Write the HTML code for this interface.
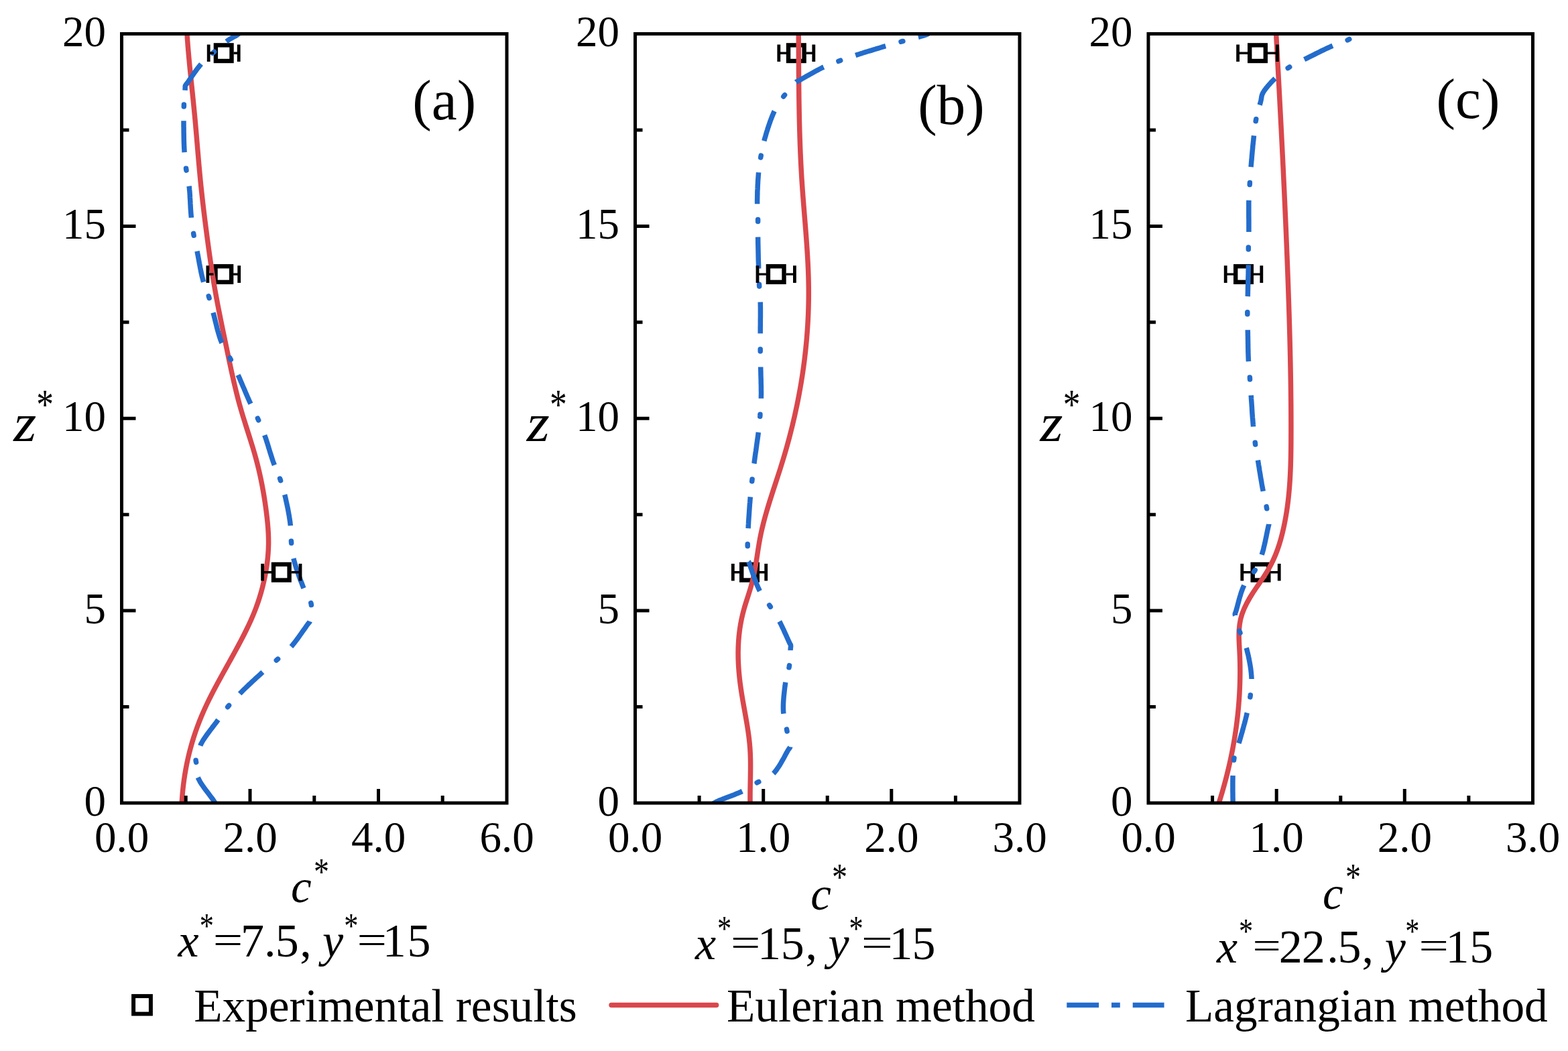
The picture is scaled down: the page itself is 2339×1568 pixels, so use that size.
<!DOCTYPE html><html><head><meta charset="utf-8"><title>Concentration profiles</title><style>html,body{margin:0;padding:0;background:#fff;}svg{display:block;}text{font-family:'Liberation Serif', 'Times New Roman', serif;fill:#000;}</style></head><body>
<svg width="2339" height="1568" viewBox="0 0 2339 1568">
<rect x="0" y="0" width="2339" height="1568" fill="#fff"/>
<g><clipPath id="clip0"><rect x="181.5" y="50.5" width="574.5" height="1147.5"/></clipPath><rect x="321.90" y="67.39" width="23.6" height="23.6" fill="#fff" stroke="#000" stroke-width="6.4"/><rect x="321.50" y="397.29" width="23.6" height="23.6" fill="#fff" stroke="#000" stroke-width="6.4"/><rect x="408.00" y="841.95" width="23.6" height="23.6" fill="#fff" stroke="#000" stroke-width="6.4"/><path d="M278.56,44.00 C278.87,49.33 279.23,54.67 279.62,60.00 C280.01,65.33 280.44,70.67 280.90,76.00 C281.35,81.33 281.84,86.67 282.34,92.00 C282.84,97.33 283.37,102.67 283.90,108.00 C284.44,113.33 284.98,118.67 285.53,124.00 C286.08,129.33 286.64,134.67 287.19,140.00 C287.74,145.33 288.29,150.67 288.82,156.00 C289.36,161.33 289.88,166.67 290.39,172.00 C290.89,177.33 291.38,182.67 291.85,188.00 C292.32,193.33 292.78,198.67 293.23,204.00 C293.68,209.33 294.13,214.67 294.58,220.00 C295.03,225.33 295.48,230.67 295.94,236.00 C296.40,241.33 296.86,246.67 297.35,252.00 C297.83,257.33 298.33,262.67 298.85,268.00 C299.38,273.33 299.92,278.67 300.49,284.00 C301.07,289.33 301.66,294.67 302.27,300.00 C302.88,305.33 303.51,310.67 304.16,316.00 C304.81,321.33 305.47,326.67 306.15,332.00 C306.83,337.33 307.52,342.67 308.22,348.00 C308.92,353.33 309.63,358.67 310.35,364.00 C311.07,369.33 311.81,374.67 312.56,380.00 C313.32,385.33 314.09,390.67 314.89,396.00 C315.68,401.33 316.50,406.67 317.35,412.00 C318.20,417.33 319.08,422.67 319.98,428.00 C320.89,433.33 321.84,438.67 322.81,444.00 C323.79,449.33 324.81,454.67 325.85,460.00 C326.88,465.33 327.95,470.67 329.03,476.00 C330.11,481.33 331.21,486.67 332.32,492.00 C333.42,497.33 334.54,502.67 335.65,508.00 C336.76,513.33 337.88,518.67 338.99,524.00 C340.09,529.33 341.21,534.67 342.33,540.00 C343.46,545.33 344.60,550.67 345.77,556.00 C346.94,561.33 348.14,566.67 349.38,572.00 C350.63,577.33 351.92,582.67 353.26,588.00 C354.60,593.33 356.00,598.67 357.48,604.00 C358.95,609.33 360.50,614.67 362.12,620.00 C363.73,625.33 365.41,630.67 367.10,636.00 C368.80,641.33 370.51,646.67 372.21,652.00 C373.90,657.33 375.57,662.67 377.18,668.00 C378.79,673.33 380.33,678.67 381.78,684.00 C383.23,689.33 384.58,694.67 385.85,700.00 C387.12,705.33 388.30,710.67 389.40,716.00 C390.50,721.33 391.52,726.67 392.47,732.00 C393.42,737.33 394.29,742.67 395.10,748.00 C395.90,753.33 396.65,758.67 397.33,764.00 C398.00,769.33 398.62,774.67 399.13,780.00 C399.63,785.33 400.04,790.67 400.29,796.00 C400.54,801.33 400.65,806.67 400.57,812.00 C400.49,817.33 400.22,822.67 399.78,828.00 C399.35,833.33 398.74,838.67 397.98,844.00 C397.21,849.33 396.29,854.67 395.22,860.00 C394.15,865.33 392.94,870.67 391.57,876.00 C390.21,881.33 388.69,886.67 387.01,892.00 C385.33,897.33 383.48,902.67 381.46,908.00 C379.44,913.33 377.24,918.67 374.88,924.00 C372.53,929.33 370.02,934.67 367.39,940.00 C364.77,945.33 362.03,950.67 359.22,956.00 C356.42,961.33 353.55,966.67 350.64,972.00 C347.73,977.33 344.77,982.67 341.80,988.00 C338.84,993.33 335.86,998.67 332.91,1004.00 C329.95,1009.33 327.02,1014.67 324.15,1020.00 C321.28,1025.33 318.46,1030.67 315.74,1036.00 C313.01,1041.33 310.38,1046.67 307.87,1052.00 C305.36,1057.33 302.98,1062.67 300.74,1068.00 C298.50,1073.33 296.40,1078.67 294.44,1084.00 C292.48,1089.33 290.65,1094.67 288.95,1100.00 C287.25,1105.33 285.68,1110.67 284.24,1116.00 C282.79,1121.33 281.47,1126.67 280.27,1132.00 C279.07,1137.33 277.99,1142.67 277.03,1148.00 C276.06,1153.33 275.21,1158.67 274.48,1164.00 C273.74,1169.33 273.11,1174.67 272.59,1180.00 C272.07,1185.33 271.65,1190.67 271.34,1196.00 C271.18,1198.67 271.05,1201.33 270.95,1204.00" fill="none" stroke="#d9474c" stroke-width="7.5" stroke-linejoin="round" stroke-linecap="butt" clip-path="url(#clip0)"/><path d="M357.5,48.5 L357.4,48.7 L357.2,48.8 L357.1,49.0 L357.0,49.2 L356.8,49.3 L356.7,49.5 L356.6,49.6 L356.5,49.8 L356.3,50.0 L356.2,50.1 L356.1,50.3 L355.9,50.5 L355.7,50.6 L355.5,50.8 L355.3,51.0 L355.1,51.2 L354.5,51.6 L353.8,52.1 L353.1,52.6 L352.3,53.1 L351.4,53.6 L350.4,54.2 L349.4,54.7 L348.3,55.3 L347.3,55.9 L346.2,56.5 L345.1,57.1 L344.0,57.7 L342.9,58.4 L341.8,59.0 L340.8,59.7 L339.8,60.4 L338.7,61.2 L337.5,62.1 L336.4,62.9 L335.3,63.8 L334.1,64.7 L333.0,65.7 L331.9,66.6 L330.7,67.6 L329.6,68.6 L328.4,69.6 L327.2,70.6 L326.1,71.6 L324.9,72.6 L323.7,73.6 L322.6,74.7 L321.4,75.7 L320.1,76.8 L318.8,78.0 L317.4,79.2 L316.1,80.3 L314.7,81.5 L313.3,82.7 L312.0,83.9 L310.6,85.1 L309.3,86.3 L307.9,87.6 L306.5,88.9 L305.2,90.2 L303.9,91.5 L302.6,92.8 L301.3,94.2 L300.0,95.6" fill="none" stroke="#236ccc" stroke-width="7.5" stroke-linejoin="round" stroke-linecap="butt" stroke-dasharray="47.00 50.50" stroke-dashoffset="22.82" clip-path="url(#clip0)"/><path d="M357.5,48.5 L357.4,48.7 L357.2,48.8 L357.1,49.0 L357.0,49.2 L356.8,49.3 L356.7,49.5 L356.6,49.6 L356.5,49.8 L356.3,50.0 L356.2,50.1 L356.1,50.3 L355.9,50.5 L355.7,50.6 L355.5,50.8 L355.3,51.0 L355.1,51.2 L354.5,51.6 L353.8,52.1 L353.1,52.6 L352.3,53.1 L351.4,53.6 L350.4,54.2 L349.4,54.7 L348.3,55.3 L347.3,55.9 L346.2,56.5 L345.1,57.1 L344.0,57.7 L342.9,58.4 L341.8,59.0 L340.8,59.7 L339.8,60.4 L338.7,61.2 L337.5,62.1 L336.4,62.9 L335.3,63.8 L334.1,64.7 L333.0,65.7 L331.9,66.6 L330.7,67.6 L329.6,68.6 L328.4,69.6 L327.2,70.6 L326.1,71.6 L324.9,72.6 L323.7,73.6 L322.6,74.7 L321.4,75.7 L320.1,76.8 L318.8,78.0 L317.4,79.2 L316.1,80.3 L314.7,81.5 L313.3,82.7 L312.0,83.9 L310.6,85.1 L309.3,86.3 L307.9,87.6 L306.5,88.9 L305.2,90.2 L303.9,91.5 L302.6,92.8 L301.3,94.2 L300.0,95.6" fill="none" stroke="#236ccc" stroke-width="7.5" stroke-linecap="round" stroke-dasharray="3.00 94.50" stroke-dashoffset="49.57" clip-path="url(#clip0)"/><path d="M300.0,95.6 L298.6,97.2 L297.2,99.0 L295.7,100.8 L294.2,102.8 L292.7,104.8 L291.3,106.8 L289.8,108.8 L288.4,110.8 L287.0,112.8 L285.7,114.8 L284.4,116.6 L283.2,118.3 L282.1,120.0 L281.1,121.4 L280.2,122.7 L279.4,123.8 L279.2,124.1 L278.9,124.4 L278.7,124.7 L278.5,125.0 L278.2,125.3 L278.0,125.5 L277.8,125.7 L277.6,125.9 L277.5,126.2 L277.3,126.4 L277.1,126.6 L277.0,126.8 L276.9,127.0 L276.7,127.3 L276.6,127.5 L276.5,127.8 L276.4,128.1 L276.3,128.4 L276.3,128.6 L276.2,128.9 L276.2,129.2 L276.2,129.4 L276.2,129.7 L276.2,130.0 L276.2,130.3 L276.2,130.6 L276.2,130.9 L276.2,131.3 L276.2,131.6 L276.2,132.0 L276.1,132.4 L276.1,132.8 L276.1,133.7 L276.0,134.7 L275.9,135.9 L275.8,137.1 L275.7,138.3 L275.5,139.7 L275.4,141.0 L275.3,142.5 L275.2,143.9 L275.1,145.4 L275.0,146.9 L274.9,148.4 L274.8,149.9 L274.7,151.4 L274.6,152.9 L274.5,154.3 L274.4,155.8 L274.4,157.4 L274.3,158.9 L274.3,160.5 L274.2,162.0 L274.2,163.6 L274.1,165.1 L274.1,166.7 L274.1,168.3 L274.0,169.9 L274.0,171.6 L274.0,173.2 L274.0,175.0 L274.0,176.7 L274.0,178.5 L274.0,180.3" fill="none" stroke="#236ccc" stroke-width="7.5" stroke-linejoin="round" stroke-linecap="butt" stroke-dasharray="47.00 45.52" stroke-dashoffset="0.00" clip-path="url(#clip0)"/><path d="M300.0,95.6 L298.6,97.2 L297.2,99.0 L295.7,100.8 L294.2,102.8 L292.7,104.8 L291.3,106.8 L289.8,108.8 L288.4,110.8 L287.0,112.8 L285.7,114.8 L284.4,116.6 L283.2,118.3 L282.1,120.0 L281.1,121.4 L280.2,122.7 L279.4,123.8 L279.2,124.1 L278.9,124.4 L278.7,124.7 L278.5,125.0 L278.2,125.3 L278.0,125.5 L277.8,125.7 L277.6,125.9 L277.5,126.2 L277.3,126.4 L277.1,126.6 L277.0,126.8 L276.9,127.0 L276.7,127.3 L276.6,127.5 L276.5,127.8 L276.4,128.1 L276.3,128.4 L276.3,128.6 L276.2,128.9 L276.2,129.2 L276.2,129.4 L276.2,129.7 L276.2,130.0 L276.2,130.3 L276.2,130.6 L276.2,130.9 L276.2,131.3 L276.2,131.6 L276.2,132.0 L276.1,132.4 L276.1,132.8 L276.1,133.7 L276.0,134.7 L275.9,135.9 L275.8,137.1 L275.7,138.3 L275.5,139.7 L275.4,141.0 L275.3,142.5 L275.2,143.9 L275.1,145.4 L275.0,146.9 L274.9,148.4 L274.8,149.9 L274.7,151.4 L274.6,152.9 L274.5,154.3 L274.4,155.8 L274.4,157.4 L274.3,158.9 L274.3,160.5 L274.2,162.0 L274.2,163.6 L274.1,165.1 L274.1,166.7 L274.1,168.3 L274.0,169.9 L274.0,171.6 L274.0,173.2 L274.0,175.0 L274.0,176.7 L274.0,178.5 L274.0,180.3" fill="none" stroke="#236ccc" stroke-width="7.5" stroke-linecap="round" stroke-dasharray="3.00 89.52" stroke-dashoffset="24.26" clip-path="url(#clip0)"/><path d="M274.0,180.3 L274.0,182.8 L274.0,185.4 L274.0,188.1 L274.1,190.9 L274.1,193.8 L274.1,196.8 L274.2,199.7 L274.2,202.7 L274.3,205.7 L274.3,208.7 L274.4,211.6 L274.5,214.5 L274.6,217.3 L274.7,220.1 L274.9,222.7 L275.0,225.2 L275.1,227.0 L275.2,228.9 L275.4,230.6 L275.5,232.3 L275.6,234.0 L275.8,235.7 L275.9,237.3 L276.1,238.9 L276.2,240.5 L276.4,242.1 L276.6,243.7 L276.8,245.3 L277.0,246.9 L277.2,248.5 L277.4,250.1 L277.6,251.7 L277.8,253.3 L278.1,254.9 L278.4,256.5 L278.6,258.1 L278.9,259.6 L279.2,261.2 L279.5,262.8 L279.8,264.3 L280.2,265.9 L280.5,267.5 L280.8,269.1 L281.1,270.8 L281.3,272.5 L281.6,274.2 L281.9,276.0 L282.1,277.8" fill="none" stroke="#236ccc" stroke-width="7.5" stroke-linejoin="round" stroke-linecap="butt" stroke-dasharray="47.00 51.04" stroke-dashoffset="0.00" clip-path="url(#clip0)"/><path d="M274.0,180.3 L274.0,182.8 L274.0,185.4 L274.0,188.1 L274.1,190.9 L274.1,193.8 L274.1,196.8 L274.2,199.7 L274.2,202.7 L274.3,205.7 L274.3,208.7 L274.4,211.6 L274.5,214.5 L274.6,217.3 L274.7,220.1 L274.9,222.7 L275.0,225.2 L275.1,227.0 L275.2,228.9 L275.4,230.6 L275.5,232.3 L275.6,234.0 L275.8,235.7 L275.9,237.3 L276.1,238.9 L276.2,240.5 L276.4,242.1 L276.6,243.7 L276.8,245.3 L277.0,246.9 L277.2,248.5 L277.4,250.1 L277.6,251.7 L277.8,253.3 L278.1,254.9 L278.4,256.5 L278.6,258.1 L278.9,259.6 L279.2,261.2 L279.5,262.8 L279.8,264.3 L280.2,265.9 L280.5,267.5 L280.8,269.1 L281.1,270.8 L281.3,272.5 L281.6,274.2 L281.9,276.0 L282.1,277.8" fill="none" stroke="#236ccc" stroke-width="7.5" stroke-linecap="round" stroke-dasharray="3.00 95.04" stroke-dashoffset="27.02" clip-path="url(#clip0)"/><path d="M282.1,277.8 L282.4,280.3 L282.6,282.9 L282.9,285.7 L283.1,288.5 L283.3,291.4 L283.4,294.4 L283.6,297.4 L283.8,300.4 L283.9,303.4 L284.1,306.4 L284.2,309.3 L284.4,312.2 L284.6,315.0 L284.8,317.7 L285.0,320.3 L285.2,322.7 L285.4,324.4 L285.5,326.0 L285.7,327.6 L285.9,329.2 L286.0,330.7 L286.2,332.1 L286.4,333.6 L286.6,335.0 L286.8,336.4 L287.0,337.8 L287.2,339.3 L287.4,340.7 L287.6,342.1 L287.8,343.6 L288.0,345.1 L288.3,346.6 L288.6,348.3 L288.9,350.0 L289.2,351.7 L289.5,353.3 L289.9,355.0 L290.2,356.7 L290.6,358.4 L290.9,360.1 L291.3,361.9 L291.7,363.6 L292.0,365.4 L292.4,367.2 L292.8,369.0 L293.2,370.9 L293.6,372.8 L294.0,374.7 L294.0,374.7" fill="none" stroke="#236ccc" stroke-width="7.5" stroke-linejoin="round" stroke-linecap="butt" stroke-dasharray="47.00 50.79" stroke-dashoffset="0.00" clip-path="url(#clip0)"/><path d="M282.1,277.8 L282.4,280.3 L282.6,282.9 L282.9,285.7 L283.1,288.5 L283.3,291.4 L283.4,294.4 L283.6,297.4 L283.8,300.4 L283.9,303.4 L284.1,306.4 L284.2,309.3 L284.4,312.2 L284.6,315.0 L284.8,317.7 L285.0,320.3 L285.2,322.7 L285.4,324.4 L285.5,326.0 L285.7,327.6 L285.9,329.2 L286.0,330.7 L286.2,332.1 L286.4,333.6 L286.6,335.0 L286.8,336.4 L287.0,337.8 L287.2,339.3 L287.4,340.7 L287.6,342.1 L287.8,343.6 L288.0,345.1 L288.3,346.6 L288.6,348.3 L288.9,350.0 L289.2,351.7 L289.5,353.3 L289.9,355.0 L290.2,356.7 L290.6,358.4 L290.9,360.1 L291.3,361.9 L291.7,363.6 L292.0,365.4 L292.4,367.2 L292.8,369.0 L293.2,370.9 L293.6,372.8 L294.0,374.7 L294.0,374.7" fill="none" stroke="#236ccc" stroke-width="7.5" stroke-linecap="round" stroke-dasharray="3.00 94.79" stroke-dashoffset="26.90" clip-path="url(#clip0)"/><path d="M294.0,374.7 L294.5,377.2 L295.0,379.7 L295.5,382.4 L296.0,385.1 L296.5,387.9 L297.0,390.7 L297.5,393.5 L298.1,396.4 L298.6,399.2 L299.2,402.0 L299.7,404.8 L300.3,407.6 L300.9,410.2 L301.5,412.8 L302.1,415.2 L302.7,417.6 L303.2,419.3 L303.7,421.0 L304.2,422.6 L304.8,424.2 L305.3,425.8 L305.9,427.3 L306.4,428.8 L307.0,430.2 L307.6,431.7 L308.1,433.2 L308.7,434.6 L309.2,436.1 L309.8,437.5 L310.3,439.0 L310.8,440.5 L311.3,442.0 L311.8,443.5 L312.2,445.0 L312.6,446.5 L313.1,447.9 L313.5,449.4 L313.9,450.9 L314.3,452.3 L314.6,453.8 L315.0,455.3 L315.4,456.8 L315.8,458.4 L316.2,459.9 L316.7,461.5 L317.1,463.1 L317.5,464.8 L318.0,466.5" fill="none" stroke="#236ccc" stroke-width="7.5" stroke-linejoin="round" stroke-linecap="butt" stroke-dasharray="47.00 48.07" stroke-dashoffset="0.00" clip-path="url(#clip0)"/><path d="M294.0,374.7 L294.5,377.2 L295.0,379.7 L295.5,382.4 L296.0,385.1 L296.5,387.9 L297.0,390.7 L297.5,393.5 L298.1,396.4 L298.6,399.2 L299.2,402.0 L299.7,404.8 L300.3,407.6 L300.9,410.2 L301.5,412.8 L302.1,415.2 L302.7,417.6 L303.2,419.3 L303.7,421.0 L304.2,422.6 L304.8,424.2 L305.3,425.8 L305.9,427.3 L306.4,428.8 L307.0,430.2 L307.6,431.7 L308.1,433.2 L308.7,434.6 L309.2,436.1 L309.8,437.5 L310.3,439.0 L310.8,440.5 L311.3,442.0 L311.8,443.5 L312.2,445.0 L312.6,446.5 L313.1,447.9 L313.5,449.4 L313.9,450.9 L314.3,452.3 L314.6,453.8 L315.0,455.3 L315.4,456.8 L315.8,458.4 L316.2,459.9 L316.7,461.5 L317.1,463.1 L317.5,464.8 L318.0,466.5" fill="none" stroke="#236ccc" stroke-width="7.5" stroke-linecap="round" stroke-dasharray="3.00 92.07" stroke-dashoffset="25.53" clip-path="url(#clip0)"/><path d="M318.0,466.5 L318.6,468.8 L319.3,471.3 L319.9,473.8 L320.6,476.5 L321.2,479.2 L321.9,481.9 L322.6,484.7 L323.3,487.5 L324.0,490.3 L324.7,493.0 L325.5,495.8 L326.3,498.5 L327.1,501.1 L327.9,503.6 L328.7,506.1 L329.6,508.4 L330.3,510.2 L331.1,512.0 L331.9,513.7 L332.7,515.3 L333.5,516.9 L334.4,518.5 L335.2,520.1 L336.1,521.6 L337.0,523.1 L337.8,524.7 L338.7,526.2 L339.6,527.7 L340.4,529.2 L341.3,530.8 L342.1,532.3 L342.9,533.9 L343.7,535.5 L344.5,537.0 L345.2,538.6 L346.0,540.1 L346.7,541.7 L347.5,543.2 L348.2,544.7 L349.0,546.3 L349.7,547.8 L350.5,549.4 L351.2,551.0 L352.0,552.6 L352.7,554.2 L353.5,555.9 L354.3,557.6 L355.1,559.4" fill="none" stroke="#236ccc" stroke-width="7.5" stroke-linejoin="round" stroke-linecap="butt" stroke-dasharray="47.00 53.56" stroke-dashoffset="0.00" clip-path="url(#clip0)"/><path d="M318.0,466.5 L318.6,468.8 L319.3,471.3 L319.9,473.8 L320.6,476.5 L321.2,479.2 L321.9,481.9 L322.6,484.7 L323.3,487.5 L324.0,490.3 L324.7,493.0 L325.5,495.8 L326.3,498.5 L327.1,501.1 L327.9,503.6 L328.7,506.1 L329.6,508.4 L330.3,510.2 L331.1,512.0 L331.9,513.7 L332.7,515.3 L333.5,516.9 L334.4,518.5 L335.2,520.1 L336.1,521.6 L337.0,523.1 L337.8,524.7 L338.7,526.2 L339.6,527.7 L340.4,529.2 L341.3,530.8 L342.1,532.3 L342.9,533.9 L343.7,535.5 L344.5,537.0 L345.2,538.6 L346.0,540.1 L346.7,541.7 L347.5,543.2 L348.2,544.7 L349.0,546.3 L349.7,547.8 L350.5,549.4 L351.2,551.0 L352.0,552.6 L352.7,554.2 L353.5,555.9 L354.3,557.6 L355.1,559.4" fill="none" stroke="#236ccc" stroke-width="7.5" stroke-linecap="round" stroke-dasharray="3.00 97.56" stroke-dashoffset="28.28" clip-path="url(#clip0)"/><path d="M355.1,559.4 L356.1,561.7 L357.2,564.0 L358.2,566.4 L359.3,568.9 L360.4,571.5 L361.5,574.1 L362.6,576.7 L363.8,579.3 L364.9,582.0 L366.0,584.6 L367.1,587.2 L368.2,589.7 L369.3,592.2 L370.3,594.6 L371.4,597.0 L372.4,599.2 L373.2,600.9 L374.0,602.6 L374.7,604.2 L375.5,605.7 L376.3,607.3 L377.0,608.8 L377.8,610.3 L378.5,611.8 L379.2,613.3 L379.9,614.7 L380.7,616.2 L381.4,617.7 L382.1,619.1 L382.8,620.6 L383.5,622.2 L384.2,623.7 L384.9,625.3 L385.6,626.8 L386.3,628.3 L386.9,629.9 L387.6,631.4 L388.2,632.9 L388.9,634.5 L389.5,636.0 L390.2,637.6 L390.8,639.1 L391.5,640.7 L392.1,642.4 L392.7,644.0 L393.4,645.7 L394.0,647.4 L394.7,649.2" fill="none" stroke="#236ccc" stroke-width="7.5" stroke-linejoin="round" stroke-linecap="butt" stroke-dasharray="47.00 51.18" stroke-dashoffset="0.00" clip-path="url(#clip0)"/><path d="M355.1,559.4 L356.1,561.7 L357.2,564.0 L358.2,566.4 L359.3,568.9 L360.4,571.5 L361.5,574.1 L362.6,576.7 L363.8,579.3 L364.9,582.0 L366.0,584.6 L367.1,587.2 L368.2,589.7 L369.3,592.2 L370.3,594.6 L371.4,597.0 L372.4,599.2 L373.2,600.9 L374.0,602.6 L374.7,604.2 L375.5,605.7 L376.3,607.3 L377.0,608.8 L377.8,610.3 L378.5,611.8 L379.2,613.3 L379.9,614.7 L380.7,616.2 L381.4,617.7 L382.1,619.1 L382.8,620.6 L383.5,622.2 L384.2,623.7 L384.9,625.3 L385.6,626.8 L386.3,628.3 L386.9,629.9 L387.6,631.4 L388.2,632.9 L388.9,634.5 L389.5,636.0 L390.2,637.6 L390.8,639.1 L391.5,640.7 L392.1,642.4 L392.7,644.0 L393.4,645.7 L394.0,647.4 L394.7,649.2" fill="none" stroke="#236ccc" stroke-width="7.5" stroke-linecap="round" stroke-dasharray="3.00 95.18" stroke-dashoffset="27.09" clip-path="url(#clip0)"/><path d="M394.7,649.2 L395.5,651.5 L396.4,653.9 L397.2,656.4 L398.0,659.0 L398.9,661.6 L399.7,664.3 L400.5,667.0 L401.4,669.8 L402.2,672.5 L403.0,675.2 L403.9,677.8 L404.7,680.4 L405.5,683.0 L406.3,685.4 L407.1,687.8 L407.9,690.0 L408.5,691.6 L409.1,693.1 L409.7,694.6 L410.3,696.1 L410.9,697.5 L411.4,698.8 L412.0,700.2 L412.6,701.5 L413.2,702.8 L413.7,704.2 L414.3,705.5 L414.9,706.8 L415.4,708.2 L416.0,709.6 L416.5,711.0 L417.0,712.4 L417.5,713.9 L418.1,715.5 L418.6,717.0 L419.1,718.5 L419.6,720.0 L420.1,721.5 L420.6,723.1 L421.0,724.6 L421.5,726.2 L422.0,727.8 L422.4,729.4 L422.9,731.1 L423.4,732.7 L423.8,734.5 L424.3,736.2 L424.7,738.0" fill="none" stroke="#236ccc" stroke-width="7.5" stroke-linejoin="round" stroke-linecap="butt" stroke-dasharray="47.00 46.81" stroke-dashoffset="0.00" clip-path="url(#clip0)"/><path d="M394.7,649.2 L395.5,651.5 L396.4,653.9 L397.2,656.4 L398.0,659.0 L398.9,661.6 L399.7,664.3 L400.5,667.0 L401.4,669.8 L402.2,672.5 L403.0,675.2 L403.9,677.8 L404.7,680.4 L405.5,683.0 L406.3,685.4 L407.1,687.8 L407.9,690.0 L408.5,691.6 L409.1,693.1 L409.7,694.6 L410.3,696.1 L410.9,697.5 L411.4,698.8 L412.0,700.2 L412.6,701.5 L413.2,702.8 L413.7,704.2 L414.3,705.5 L414.9,706.8 L415.4,708.2 L416.0,709.6 L416.5,711.0 L417.0,712.4 L417.5,713.9 L418.1,715.5 L418.6,717.0 L419.1,718.5 L419.6,720.0 L420.1,721.5 L420.6,723.1 L421.0,724.6 L421.5,726.2 L422.0,727.8 L422.4,729.4 L422.9,731.1 L423.4,732.7 L423.8,734.5 L424.3,736.2 L424.7,738.0" fill="none" stroke="#236ccc" stroke-width="7.5" stroke-linecap="round" stroke-dasharray="3.00 90.81" stroke-dashoffset="24.91" clip-path="url(#clip0)"/><path d="M424.7,738.0 L425.3,740.4 L425.9,742.8 L426.4,745.4 L427.0,748.0 L427.6,750.7 L428.2,753.5 L428.8,756.3 L429.4,759.1 L429.9,761.9 L430.4,764.7 L430.9,767.4 L431.4,770.2 L431.8,772.8 L432.2,775.4 L432.6,777.9 L432.9,780.3 L433.1,782.1 L433.3,783.9 L433.4,785.6 L433.5,787.3 L433.6,788.9 L433.7,790.6 L433.7,792.2 L433.7,793.8 L433.8,795.4 L433.8,796.9 L433.9,798.5 L433.9,800.1 L434.0,801.7 L434.1,803.3 L434.2,804.9 L434.3,806.5 L434.5,808.1 L434.6,809.8 L434.7,811.4 L434.9,813.0 L435.0,814.6 L435.2,816.2 L435.4,817.8 L435.5,819.4 L435.7,821.0 L436.0,822.7 L436.2,824.3 L436.5,826.0 L436.8,827.7 L437.1,829.5 L437.5,831.3 L437.9,833.1" fill="none" stroke="#236ccc" stroke-width="7.5" stroke-linejoin="round" stroke-linecap="butt" stroke-dasharray="47.00 49.23" stroke-dashoffset="0.00" clip-path="url(#clip0)"/><path d="M424.7,738.0 L425.3,740.4 L425.9,742.8 L426.4,745.4 L427.0,748.0 L427.6,750.7 L428.2,753.5 L428.8,756.3 L429.4,759.1 L429.9,761.9 L430.4,764.7 L430.9,767.4 L431.4,770.2 L431.8,772.8 L432.2,775.4 L432.6,777.9 L432.9,780.3 L433.1,782.1 L433.3,783.9 L433.4,785.6 L433.5,787.3 L433.6,788.9 L433.7,790.6 L433.7,792.2 L433.7,793.8 L433.8,795.4 L433.8,796.9 L433.9,798.5 L433.9,800.1 L434.0,801.7 L434.1,803.3 L434.2,804.9 L434.3,806.5 L434.5,808.1 L434.6,809.8 L434.7,811.4 L434.9,813.0 L435.0,814.6 L435.2,816.2 L435.4,817.8 L435.5,819.4 L435.7,821.0 L436.0,822.7 L436.2,824.3 L436.5,826.0 L436.8,827.7 L437.1,829.5 L437.5,831.3 L437.9,833.1" fill="none" stroke="#236ccc" stroke-width="7.5" stroke-linecap="round" stroke-dasharray="3.00 93.23" stroke-dashoffset="26.11" clip-path="url(#clip0)"/><path d="M437.9,833.1 L438.5,835.7 L439.2,838.3 L440.0,841.1 L440.9,844.0 L441.8,847.0 L442.8,850.0 L443.8,853.0 L444.9,856.1 L445.9,859.1 L447.0,862.1 L448.1,865.1 L449.2,867.9 L450.3,870.7 L451.3,873.4 L452.3,876.0 L453.3,878.4 L454.0,880.1 L454.8,881.7 L455.5,883.2 L456.4,884.7 L457.2,886.2 L458.0,887.6 L458.8,889.0 L459.6,890.4 L460.4,891.7 L461.1,893.1 L461.8,894.4 L462.4,895.8 L463.0,897.1 L463.5,898.5 L463.9,899.9 L464.2,901.3 L464.4,902.6 L464.5,904.0 L464.6,905.4 L464.5,906.8 L464.5,908.3 L464.3,909.7 L464.2,911.2 L464.0,912.6 L463.8,914.0 L463.6,915.4 L463.4,916.7 L463.2,917.9 L463.0,919.1 L462.8,920.2 L462.7,921.2 L462.6,922.1 L462.6,922.5 L462.5,922.9 L462.5,923.3 L462.5,923.6 L462.5,924.0 L462.5,924.3 L462.5,924.6 L462.5,924.9 L462.5,925.2 L462.5,925.5 L462.5,925.7 L462.5,926.0 L462.4,926.3 L462.4,926.5 L462.3,926.8 L462.2,927.1 L462.2,927.1" fill="none" stroke="#236ccc" stroke-width="7.5" stroke-linejoin="round" stroke-linecap="butt" stroke-dasharray="47.00 52.33" stroke-dashoffset="0.00" clip-path="url(#clip0)"/><path d="M437.9,833.1 L438.5,835.7 L439.2,838.3 L440.0,841.1 L440.9,844.0 L441.8,847.0 L442.8,850.0 L443.8,853.0 L444.9,856.1 L445.9,859.1 L447.0,862.1 L448.1,865.1 L449.2,867.9 L450.3,870.7 L451.3,873.4 L452.3,876.0 L453.3,878.4 L454.0,880.1 L454.8,881.7 L455.5,883.2 L456.4,884.7 L457.2,886.2 L458.0,887.6 L458.8,889.0 L459.6,890.4 L460.4,891.7 L461.1,893.1 L461.8,894.4 L462.4,895.8 L463.0,897.1 L463.5,898.5 L463.9,899.9 L464.2,901.3 L464.4,902.6 L464.5,904.0 L464.6,905.4 L464.5,906.8 L464.5,908.3 L464.3,909.7 L464.2,911.2 L464.0,912.6 L463.8,914.0 L463.6,915.4 L463.4,916.7 L463.2,917.9 L463.0,919.1 L462.8,920.2 L462.7,921.2 L462.6,922.1 L462.6,922.5 L462.5,922.9 L462.5,923.3 L462.5,923.6 L462.5,924.0 L462.5,924.3 L462.5,924.6 L462.5,924.9 L462.5,925.2 L462.5,925.5 L462.5,925.7 L462.5,926.0 L462.4,926.3 L462.4,926.5 L462.3,926.8 L462.2,927.1 L462.2,927.1" fill="none" stroke="#236ccc" stroke-width="7.5" stroke-linecap="round" stroke-dasharray="3.00 96.33" stroke-dashoffset="27.67" clip-path="url(#clip0)"/><path d="M462.2,927.1 L462.1,927.4 L462.0,927.6 L461.8,927.9 L461.7,928.1 L461.6,928.3 L461.4,928.5 L461.2,928.7 L461.1,928.9 L460.9,929.1 L460.7,929.4 L460.5,929.6 L460.2,929.9 L460.0,930.1 L459.7,930.4 L459.5,930.8 L459.2,931.1 L458.3,932.4 L457.2,933.9 L455.9,935.8 L454.5,937.8 L452.9,940.0 L451.2,942.4 L449.5,944.9 L447.7,947.4 L445.8,950.1 L443.9,952.7 L442.0,955.2 L440.1,957.7 L438.2,960.2 L436.4,962.4 L434.7,964.5 L433.0,966.4 L431.8,967.7 L430.5,969.0 L429.3,970.2 L428.1,971.4 L426.9,972.5 L425.7,973.6 L424.4,974.7 L423.2,975.8 L422.0,976.8 L420.8,977.8 L419.6,978.8 L418.4,979.9 L417.1,980.9 L415.9,981.9 L414.7,983.0 L413.4,984.1 L412.1,985.2 L410.8,986.4 L409.5,987.5 L408.2,988.6 L406.9,989.7 L405.6,990.9 L404.3,992.0 L402.9,993.1 L401.6,994.2 L400.3,995.4 L398.9,996.5 L397.5,997.7 L396.2,998.9 L394.8,1000.2 L393.3,1001.4 L391.9,1002.7" fill="none" stroke="#236ccc" stroke-width="7.5" stroke-linejoin="round" stroke-linecap="butt" stroke-dasharray="47.00 56.87" stroke-dashoffset="0.00" clip-path="url(#clip0)"/><path d="M462.2,927.1 L462.1,927.4 L462.0,927.6 L461.8,927.9 L461.7,928.1 L461.6,928.3 L461.4,928.5 L461.2,928.7 L461.1,928.9 L460.9,929.1 L460.7,929.4 L460.5,929.6 L460.2,929.9 L460.0,930.1 L459.7,930.4 L459.5,930.8 L459.2,931.1 L458.3,932.4 L457.2,933.9 L455.9,935.8 L454.5,937.8 L452.9,940.0 L451.2,942.4 L449.5,944.9 L447.7,947.4 L445.8,950.1 L443.9,952.7 L442.0,955.2 L440.1,957.7 L438.2,960.2 L436.4,962.4 L434.7,964.5 L433.0,966.4 L431.8,967.7 L430.5,969.0 L429.3,970.2 L428.1,971.4 L426.9,972.5 L425.7,973.6 L424.4,974.7 L423.2,975.8 L422.0,976.8 L420.8,977.8 L419.6,978.8 L418.4,979.9 L417.1,980.9 L415.9,981.9 L414.7,983.0 L413.4,984.1 L412.1,985.2 L410.8,986.4 L409.5,987.5 L408.2,988.6 L406.9,989.7 L405.6,990.9 L404.3,992.0 L402.9,993.1 L401.6,994.2 L400.3,995.4 L398.9,996.5 L397.5,997.7 L396.2,998.9 L394.8,1000.2 L393.3,1001.4 L391.9,1002.7" fill="none" stroke="#236ccc" stroke-width="7.5" stroke-linecap="round" stroke-dasharray="3.00 100.87" stroke-dashoffset="29.93" clip-path="url(#clip0)"/><path d="M391.9,1002.7 L390.1,1004.3 L388.3,1006.0 L386.4,1007.7 L384.4,1009.5 L382.4,1011.3 L380.4,1013.1 L378.4,1015.0 L376.4,1016.8 L374.4,1018.7 L372.4,1020.6 L370.4,1022.4 L368.5,1024.3 L366.6,1026.1 L364.7,1027.9 L362.9,1029.7 L361.2,1031.4 L359.8,1032.8 L358.4,1034.2 L357.0,1035.7 L355.6,1037.0 L354.3,1038.4 L353.0,1039.8 L351.7,1041.2 L350.4,1042.5 L349.1,1043.9 L347.9,1045.2 L346.6,1046.6 L345.4,1047.9 L344.2,1049.3 L343.0,1050.7 L341.9,1052.0 L340.7,1053.4 L339.7,1054.7 L338.6,1055.9 L337.7,1057.1 L336.7,1058.4 L335.8,1059.6 L334.9,1060.8 L334.0,1062.0 L333.0,1063.3 L332.1,1064.5 L331.2,1065.8 L330.3,1067.1 L329.4,1068.4 L328.4,1069.7 L327.5,1071.1 L326.4,1072.5 L325.4,1073.9" fill="none" stroke="#236ccc" stroke-width="7.5" stroke-linejoin="round" stroke-linecap="butt" stroke-dasharray="47.00 50.70" stroke-dashoffset="0.00" clip-path="url(#clip0)"/><path d="M391.9,1002.7 L390.1,1004.3 L388.3,1006.0 L386.4,1007.7 L384.4,1009.5 L382.4,1011.3 L380.4,1013.1 L378.4,1015.0 L376.4,1016.8 L374.4,1018.7 L372.4,1020.6 L370.4,1022.4 L368.5,1024.3 L366.6,1026.1 L364.7,1027.9 L362.9,1029.7 L361.2,1031.4 L359.8,1032.8 L358.4,1034.2 L357.0,1035.7 L355.6,1037.0 L354.3,1038.4 L353.0,1039.8 L351.7,1041.2 L350.4,1042.5 L349.1,1043.9 L347.9,1045.2 L346.6,1046.6 L345.4,1047.9 L344.2,1049.3 L343.0,1050.7 L341.9,1052.0 L340.7,1053.4 L339.7,1054.7 L338.6,1055.9 L337.7,1057.1 L336.7,1058.4 L335.8,1059.6 L334.9,1060.8 L334.0,1062.0 L333.0,1063.3 L332.1,1064.5 L331.2,1065.8 L330.3,1067.1 L329.4,1068.4 L328.4,1069.7 L327.5,1071.1 L326.4,1072.5 L325.4,1073.9" fill="none" stroke="#236ccc" stroke-width="7.5" stroke-linecap="round" stroke-dasharray="3.00 94.70" stroke-dashoffset="26.85" clip-path="url(#clip0)"/><path d="M325.4,1073.9 L324.0,1075.8 L322.4,1077.9 L320.8,1080.0 L319.1,1082.2 L317.4,1084.4 L315.7,1086.7 L313.9,1089.0 L312.1,1091.4 L310.4,1093.7 L308.7,1096.0 L307.1,1098.3 L305.5,1100.6 L304.0,1102.8 L302.7,1104.9 L301.5,1107.0 L300.4,1109.0 L299.7,1110.3 L299.1,1111.7 L298.6,1113.1 L298.0,1114.4 L297.5,1115.8 L297.1,1117.1 L296.6,1118.5 L296.2,1119.8 L295.9,1121.0 L295.5,1122.2 L295.2,1123.4 L294.9,1124.5 L294.6,1125.6 L294.3,1126.6 L294.0,1127.5 L293.7,1128.4 L293.6,1128.8 L293.5,1129.1 L293.3,1129.5 L293.2,1129.8 L293.1,1130.1 L292.9,1130.4 L292.8,1130.6 L292.7,1130.9 L292.6,1131.2 L292.5,1131.5 L292.4,1131.7 L292.3,1132.0 L292.3,1132.2 L292.2,1132.5 L292.1,1132.8 L292.1,1133.1 L292.1,1133.4 L292.1,1133.7 L292.1,1134.0 L292.1,1134.2 L292.1,1134.5 L292.1,1134.8 L292.2,1135.1 L292.2,1135.3 L292.3,1135.6 L292.3,1135.9 L292.4,1136.2 L292.5,1136.6 L292.5,1136.9 L292.6,1137.3 L292.6,1137.7 L292.7,1138.1 L292.8,1139.0 L292.8,1140.0 L292.9,1141.2 L292.9,1142.4 L293.0,1143.7 L293.0,1145.0 L293.1,1146.4 L293.1,1147.9 L293.2,1149.3 L293.4,1150.8 L293.5,1152.4 L293.8,1153.9 L294.0,1155.4 L294.4,1156.9 L294.8,1158.4 L295.3,1159.9" fill="none" stroke="#236ccc" stroke-width="7.5" stroke-linejoin="round" stroke-linecap="butt" stroke-dasharray="47.00 48.78" stroke-dashoffset="0.00" clip-path="url(#clip0)"/><path d="M325.4,1073.9 L324.0,1075.8 L322.4,1077.9 L320.8,1080.0 L319.1,1082.2 L317.4,1084.4 L315.7,1086.7 L313.9,1089.0 L312.1,1091.4 L310.4,1093.7 L308.7,1096.0 L307.1,1098.3 L305.5,1100.6 L304.0,1102.8 L302.7,1104.9 L301.5,1107.0 L300.4,1109.0 L299.7,1110.3 L299.1,1111.7 L298.6,1113.1 L298.0,1114.4 L297.5,1115.8 L297.1,1117.1 L296.6,1118.5 L296.2,1119.8 L295.9,1121.0 L295.5,1122.2 L295.2,1123.4 L294.9,1124.5 L294.6,1125.6 L294.3,1126.6 L294.0,1127.5 L293.7,1128.4 L293.6,1128.8 L293.5,1129.1 L293.3,1129.5 L293.2,1129.8 L293.1,1130.1 L292.9,1130.4 L292.8,1130.6 L292.7,1130.9 L292.6,1131.2 L292.5,1131.5 L292.4,1131.7 L292.3,1132.0 L292.3,1132.2 L292.2,1132.5 L292.1,1132.8 L292.1,1133.1 L292.1,1133.4 L292.1,1133.7 L292.1,1134.0 L292.1,1134.2 L292.1,1134.5 L292.1,1134.8 L292.2,1135.1 L292.2,1135.3 L292.3,1135.6 L292.3,1135.9 L292.4,1136.2 L292.5,1136.6 L292.5,1136.9 L292.6,1137.3 L292.6,1137.7 L292.7,1138.1 L292.8,1139.0 L292.8,1140.0 L292.9,1141.2 L292.9,1142.4 L293.0,1143.7 L293.0,1145.0 L293.1,1146.4 L293.1,1147.9 L293.2,1149.3 L293.4,1150.8 L293.5,1152.4 L293.8,1153.9 L294.0,1155.4 L294.4,1156.9 L294.8,1158.4 L295.3,1159.9" fill="none" stroke="#236ccc" stroke-width="7.5" stroke-linecap="round" stroke-dasharray="3.00 92.78" stroke-dashoffset="25.89" clip-path="url(#clip0)"/><path d="M295.3,1159.9 L296.2,1162.0 L297.3,1164.1 L298.5,1166.4 L300.0,1168.8 L301.6,1171.2 L303.3,1173.6 L305.0,1176.0 L306.8,1178.4 L308.6,1180.8 L310.3,1183.1 L312.0,1185.3 L313.6,1187.4 L315.1,1189.4 L316.4,1191.1 L317.6,1192.7 L318.5,1194.1 L318.8,1194.6 L319.1,1195.1 L319.4,1195.5 L319.6,1195.9 L319.8,1196.3 L320.1,1196.7 L320.3,1197.0 L320.5,1197.3 L320.7,1197.7 L320.8,1198.0 L321.0,1198.3 L321.2,1198.6 L321.4,1199.0 L321.6,1199.3 L321.8,1199.6 L322.0,1200.0" fill="none" stroke="#236ccc" stroke-width="7.5" stroke-linejoin="round" stroke-linecap="butt" stroke-dasharray="47.00 50.50" stroke-dashoffset="0.00" clip-path="url(#clip0)"/><path d="M295.3,1159.9 L296.2,1162.0 L297.3,1164.1 L298.5,1166.4 L300.0,1168.8 L301.6,1171.2 L303.3,1173.6 L305.0,1176.0 L306.8,1178.4 L308.6,1180.8 L310.3,1183.1 L312.0,1185.3 L313.6,1187.4 L315.1,1189.4 L316.4,1191.1 L317.6,1192.7 L318.5,1194.1 L318.8,1194.6 L319.1,1195.1 L319.4,1195.5 L319.6,1195.9 L319.8,1196.3 L320.1,1196.7 L320.3,1197.0 L320.5,1197.3 L320.7,1197.7 L320.8,1198.0 L321.0,1198.3 L321.2,1198.6 L321.4,1199.0 L321.6,1199.3 L321.8,1199.6 L322.0,1200.0" fill="none" stroke="#236ccc" stroke-width="7.5" stroke-linecap="round" stroke-dasharray="3.00 94.50" stroke-dashoffset="26.75" clip-path="url(#clip0)"/><path d="M311.2,79.2 H318.9 M348.5,79.2 H356.2" stroke="#000" stroke-width="3.4" fill="none"/><path d="M311.2,66.4 V92.0 M356.2,66.4 V92.0" stroke="#000" stroke-width="4.8" fill="none"/><path d="M309.9,409.1 H318.5 M348.1,409.1 H356.7" stroke="#000" stroke-width="3.4" fill="none"/><path d="M309.9,396.3 V421.9 M356.7,396.3 V421.9" stroke="#000" stroke-width="4.8" fill="none"/><path d="M391.6,853.8 H405.0 M434.6,853.8 H448.0" stroke="#000" stroke-width="3.4" fill="none"/><path d="M391.6,841.0 V866.5 M448.0,841.0 V866.5" stroke="#000" stroke-width="4.8" fill="none"/><rect x="181.5" y="50.5" width="574.5" height="1147.5" fill="none" stroke="#000" stroke-width="5" stroke-linejoin="miter"/><path d="M181.5,1054.6 h11.0 M181.5,911.1 h21.0 M181.5,767.7 h11.0 M181.5,624.2 h21.0 M181.5,480.8 h11.0 M181.5,337.4 h21.0 M181.5,193.9 h11.0 M277.2,1198.0 v-11.0 M373.0,1198.0 v-21.0 M468.8,1198.0 v-11.0 M564.5,1198.0 v-21.0 M660.2,1198.0 v-11.0" stroke="#000" stroke-width="5" fill="none"/><text x="157.9" y="1216.5" font-size="65.0" text-anchor="end">0</text><text x="157.9" y="929.6" font-size="65.0" text-anchor="end">5</text><text x="157.9" y="642.8" font-size="65.0" text-anchor="end">10</text><text x="157.9" y="355.9" font-size="65.0" text-anchor="end">15</text><text x="157.9" y="69.0" font-size="65.0" text-anchor="end">20</text><text x="181.5" y="1271.0" font-size="65.0" text-anchor="middle">0.0</text><text x="373.0" y="1271.0" font-size="65.0" text-anchor="middle">2.0</text><text x="564.5" y="1271.0" font-size="65.0" text-anchor="middle">4.0</text><text x="756.0" y="1271.0" font-size="65.0" text-anchor="middle">6.0</text></g>
<g><clipPath id="clip1"><rect x="947.5" y="50.5" width="573.5" height="1147.5"/></clipPath><rect x="1176.00" y="67.39" width="23.6" height="23.6" fill="#fff" stroke="#000" stroke-width="6.4"/><rect x="1145.90" y="397.29" width="23.6" height="23.6" fill="#fff" stroke="#000" stroke-width="6.4"/><rect x="1106.20" y="841.95" width="23.6" height="23.6" fill="#fff" stroke="#000" stroke-width="6.4"/><path d="M1191.21,44.00 C1191.23,49.33 1191.25,54.67 1191.27,60.00 C1191.29,65.33 1191.31,70.67 1191.33,76.00 C1191.35,81.33 1191.37,86.67 1191.40,92.00 C1191.42,97.33 1191.45,102.67 1191.48,108.00 C1191.51,113.33 1191.55,118.67 1191.60,124.00 C1191.64,129.33 1191.70,134.67 1191.76,140.00 C1191.82,145.33 1191.89,150.67 1191.97,156.00 C1192.06,161.33 1192.15,166.67 1192.26,172.00 C1192.36,177.33 1192.48,182.67 1192.62,188.00 C1192.75,193.33 1192.91,198.67 1193.07,204.00 C1193.24,209.33 1193.43,214.67 1193.63,220.00 C1193.84,225.33 1194.06,230.67 1194.31,236.00 C1194.55,241.33 1194.82,246.67 1195.11,252.00 C1195.40,257.33 1195.71,262.67 1196.05,268.00 C1196.39,273.33 1196.76,278.67 1197.14,284.00 C1197.53,289.33 1197.94,294.67 1198.36,300.00 C1198.78,305.33 1199.21,310.67 1199.64,316.00 C1200.07,321.33 1200.51,326.67 1200.94,332.00 C1201.37,337.33 1201.80,342.67 1202.21,348.00 C1202.62,353.33 1203.02,358.67 1203.39,364.00 C1203.77,369.33 1204.12,374.67 1204.44,380.00 C1204.76,385.33 1205.05,390.67 1205.30,396.00 C1205.55,401.33 1205.76,406.67 1205.93,412.00 C1206.09,417.33 1206.20,422.67 1206.26,428.00 C1206.32,433.33 1206.33,438.67 1206.28,444.00 C1206.23,449.33 1206.13,454.67 1205.97,460.00 C1205.81,465.33 1205.60,470.67 1205.34,476.00 C1205.08,481.33 1204.76,486.67 1204.39,492.00 C1204.02,497.33 1203.60,502.67 1203.13,508.00 C1202.65,513.33 1202.12,518.67 1201.54,524.00 C1200.96,529.33 1200.33,534.67 1199.65,540.00 C1198.96,545.33 1198.23,550.67 1197.44,556.00 C1196.65,561.33 1195.81,566.67 1194.91,572.00 C1194.02,577.33 1193.08,582.67 1192.08,588.00 C1191.08,593.33 1190.04,598.67 1188.94,604.00 C1187.84,609.33 1186.69,614.67 1185.49,620.00 C1184.28,625.33 1183.03,630.67 1181.73,636.00 C1180.42,641.33 1179.07,646.67 1177.67,652.00 C1176.26,657.33 1174.81,662.67 1173.30,668.00 C1171.79,673.33 1170.24,678.67 1168.63,684.00 C1167.03,689.33 1165.37,694.67 1163.67,700.00 C1161.97,705.33 1160.23,710.67 1158.48,716.00 C1156.74,721.33 1154.99,726.67 1153.25,732.00 C1151.52,737.33 1149.80,742.67 1148.13,748.00 C1146.46,753.33 1144.84,758.67 1143.30,764.00 C1141.75,769.33 1140.28,774.67 1138.91,780.00 C1137.55,785.33 1136.28,790.67 1135.15,796.00 C1134.02,801.33 1133.03,806.67 1132.14,812.00 C1131.25,817.33 1130.44,822.67 1129.63,828.00 C1128.83,833.33 1128.02,838.67 1127.12,844.00 C1126.22,849.33 1125.23,854.67 1124.07,860.00 C1122.91,865.33 1121.54,870.67 1119.98,876.00 C1118.42,881.33 1116.69,886.67 1114.98,892.00 C1113.26,897.33 1111.56,902.67 1110.03,908.00 C1108.51,913.33 1107.20,918.67 1106.09,924.00 C1104.99,929.33 1104.08,934.67 1103.36,940.00 C1102.64,945.33 1102.10,950.67 1101.73,956.00 C1101.36,961.33 1101.15,966.67 1101.10,972.00 C1101.04,977.33 1101.13,982.67 1101.36,988.00 C1101.59,993.33 1101.95,998.67 1102.42,1004.00 C1102.90,1009.33 1103.48,1014.67 1104.17,1020.00 C1104.86,1025.33 1105.65,1030.67 1106.51,1036.00 C1107.37,1041.33 1108.30,1046.67 1109.25,1052.00 C1110.21,1057.33 1111.18,1062.67 1112.13,1068.00 C1113.09,1073.33 1114.01,1078.67 1114.87,1084.00 C1115.72,1089.33 1116.50,1094.67 1117.17,1100.00 C1117.83,1105.33 1118.38,1110.67 1118.76,1116.00 C1119.14,1121.33 1119.36,1126.67 1119.48,1132.00 C1119.60,1137.33 1119.61,1142.67 1119.56,1148.00 C1119.52,1153.33 1119.42,1158.67 1119.32,1164.00 C1119.21,1169.33 1119.10,1174.67 1119.04,1180.00 C1118.97,1185.33 1118.95,1190.67 1119.02,1196.00 C1119.06,1198.67 1119.12,1201.33 1119.21,1204.00" fill="none" stroke="#d9474c" stroke-width="7.5" stroke-linejoin="round" stroke-linecap="butt" clip-path="url(#clip1)"/><path d="M1386.0,49.5 L1385.8,49.6 L1385.6,49.7 L1385.4,49.8 L1385.2,49.9 L1385.0,50.1 L1384.9,50.2 L1384.7,50.3 L1384.5,50.4 L1384.3,50.5 L1384.1,50.6 L1383.9,50.7 L1383.7,50.8 L1383.5,51.0 L1383.2,51.1 L1383.0,51.2 L1382.7,51.3 L1382.2,51.5 L1381.7,51.7 L1381.1,51.9 L1380.5,52.1 L1379.8,52.4 L1379.2,52.6 L1378.5,52.8 L1377.8,53.0 L1377.0,53.2 L1376.3,53.5 L1375.5,53.7 L1374.7,53.9 L1373.9,54.2 L1373.1,54.4 L1372.2,54.7 L1371.4,54.9 L1370.1,55.3 L1368.8,55.6 L1367.4,56.0 L1365.9,56.4 L1364.4,56.8 L1362.9,57.2 L1361.3,57.7 L1359.7,58.1 L1358.1,58.5 L1356.4,58.9 L1354.8,59.4 L1353.1,59.8 L1351.5,60.2 L1349.9,60.6 L1348.3,61.1 L1346.7,61.5 L1345.1,61.9 L1343.6,62.4 L1342.0,62.8 L1340.5,63.2 L1339.0,63.6 L1337.4,64.0 L1335.9,64.5 L1334.3,64.9 L1332.8,65.3 L1331.2,65.8 L1329.6,66.2 L1328.0,66.7 L1326.3,67.2 L1324.6,67.7 L1322.9,68.2 L1321.1,68.7" fill="none" stroke="#236ccc" stroke-width="7.5" stroke-linejoin="round" stroke-linecap="butt" stroke-dasharray="47.00 50.50" stroke-dashoffset="29.71" clip-path="url(#clip1)"/><path d="M1386.0,49.5 L1385.8,49.6 L1385.6,49.7 L1385.4,49.8 L1385.2,49.9 L1385.0,50.1 L1384.9,50.2 L1384.7,50.3 L1384.5,50.4 L1384.3,50.5 L1384.1,50.6 L1383.9,50.7 L1383.7,50.8 L1383.5,51.0 L1383.2,51.1 L1383.0,51.2 L1382.7,51.3 L1382.2,51.5 L1381.7,51.7 L1381.1,51.9 L1380.5,52.1 L1379.8,52.4 L1379.2,52.6 L1378.5,52.8 L1377.8,53.0 L1377.0,53.2 L1376.3,53.5 L1375.5,53.7 L1374.7,53.9 L1373.9,54.2 L1373.1,54.4 L1372.2,54.7 L1371.4,54.9 L1370.1,55.3 L1368.8,55.6 L1367.4,56.0 L1365.9,56.4 L1364.4,56.8 L1362.9,57.2 L1361.3,57.7 L1359.7,58.1 L1358.1,58.5 L1356.4,58.9 L1354.8,59.4 L1353.1,59.8 L1351.5,60.2 L1349.9,60.6 L1348.3,61.1 L1346.7,61.5 L1345.1,61.9 L1343.6,62.4 L1342.0,62.8 L1340.5,63.2 L1339.0,63.6 L1337.4,64.0 L1335.9,64.5 L1334.3,64.9 L1332.8,65.3 L1331.2,65.8 L1329.6,66.2 L1328.0,66.7 L1326.3,67.2 L1324.6,67.7 L1322.9,68.2 L1321.1,68.7" fill="none" stroke="#236ccc" stroke-width="7.5" stroke-linecap="round" stroke-dasharray="3.00 94.50" stroke-dashoffset="56.46" clip-path="url(#clip1)"/><path d="M1321.1,68.7 L1318.7,69.4 L1316.1,70.2 L1313.5,71.0 L1310.7,71.8 L1307.9,72.6 L1305.1,73.5 L1302.2,74.4 L1299.3,75.3 L1296.4,76.2 L1293.5,77.0 L1290.6,77.9 L1287.8,78.8 L1285.1,79.7 L1282.5,80.5 L1279.9,81.3 L1277.5,82.1 L1275.7,82.7 L1274.0,83.2 L1272.3,83.8 L1270.7,84.4 L1269.1,84.9 L1267.5,85.4 L1265.9,86.0 L1264.4,86.5 L1262.9,87.0 L1261.4,87.5 L1259.9,88.1 L1258.4,88.6 L1256.9,89.1 L1255.4,89.7 L1253.8,90.2 L1252.3,90.8 L1250.8,91.3 L1249.3,91.9 L1247.9,92.4 L1246.4,92.9 L1245.0,93.4 L1243.6,94.0 L1242.1,94.5 L1240.7,95.0 L1239.3,95.5 L1237.8,96.1 L1236.4,96.7 L1234.9,97.3 L1233.4,97.9 L1231.9,98.6 L1230.3,99.3 L1228.7,100.0" fill="none" stroke="#236ccc" stroke-width="7.5" stroke-linejoin="round" stroke-linecap="butt" stroke-dasharray="47.00 50.62" stroke-dashoffset="0.00" clip-path="url(#clip1)"/><path d="M1321.1,68.7 L1318.7,69.4 L1316.1,70.2 L1313.5,71.0 L1310.7,71.8 L1307.9,72.6 L1305.1,73.5 L1302.2,74.4 L1299.3,75.3 L1296.4,76.2 L1293.5,77.0 L1290.6,77.9 L1287.8,78.8 L1285.1,79.7 L1282.5,80.5 L1279.9,81.3 L1277.5,82.1 L1275.7,82.7 L1274.0,83.2 L1272.3,83.8 L1270.7,84.4 L1269.1,84.9 L1267.5,85.4 L1265.9,86.0 L1264.4,86.5 L1262.9,87.0 L1261.4,87.5 L1259.9,88.1 L1258.4,88.6 L1256.9,89.1 L1255.4,89.7 L1253.8,90.2 L1252.3,90.8 L1250.8,91.3 L1249.3,91.9 L1247.9,92.4 L1246.4,92.9 L1245.0,93.4 L1243.6,94.0 L1242.1,94.5 L1240.7,95.0 L1239.3,95.5 L1237.8,96.1 L1236.4,96.7 L1234.9,97.3 L1233.4,97.9 L1231.9,98.6 L1230.3,99.3 L1228.7,100.0" fill="none" stroke="#236ccc" stroke-width="7.5" stroke-linecap="round" stroke-dasharray="3.00 94.62" stroke-dashoffset="26.81" clip-path="url(#clip1)"/><path d="M1228.7,100.0 L1226.5,101.0 L1224.2,102.2 L1221.7,103.5 L1219.2,104.8 L1216.5,106.3 L1213.9,107.7 L1211.2,109.2 L1208.5,110.7 L1205.9,112.2 L1203.4,113.6 L1201.0,115.0 L1198.7,116.2 L1196.7,117.4 L1194.8,118.5 L1193.2,119.4 L1191.9,120.1 L1191.5,120.3 L1191.1,120.5 L1190.8,120.7 L1190.5,120.8 L1190.2,121.0 L1189.9,121.1 L1189.6,121.2 L1189.4,121.4 L1189.1,121.5 L1188.9,121.6 L1188.6,121.7 L1188.4,121.9 L1188.2,122.0 L1188.0,122.2 L1187.7,122.3 L1187.5,122.5 L1187.3,122.7 L1187.1,122.9 L1186.9,123.1 L1186.7,123.3 L1186.5,123.5 L1186.3,123.7 L1186.1,123.9 L1185.9,124.1 L1185.8,124.4 L1185.6,124.6 L1185.4,124.8 L1185.2,125.1 L1185.0,125.4 L1184.7,125.7 L1184.5,126.0 L1184.2,126.3 L1183.6,127.0 L1182.8,127.9 L1181.9,128.8 L1181.0,129.8 L1180.1,130.9 L1179.0,132.0 L1178.0,133.2 L1176.9,134.4 L1175.8,135.6 L1174.7,136.9 L1173.5,138.1 L1172.4,139.4 L1171.4,140.7 L1170.3,142.0 L1169.3,143.3 L1168.4,144.5 L1167.5,145.7 L1166.6,147.0 L1165.7,148.2 L1164.8,149.5 L1164.0,150.7 L1163.1,151.9 L1162.3,153.2 L1161.4,154.5 L1160.6,155.8 L1159.8,157.1 L1159.0,158.5 L1158.2,159.9 L1157.4,161.3 L1156.6,162.8 L1155.9,164.3 L1155.1,165.9" fill="none" stroke="#236ccc" stroke-width="7.5" stroke-linejoin="round" stroke-linecap="butt" stroke-dasharray="47.00 54.36" stroke-dashoffset="0.00" clip-path="url(#clip1)"/><path d="M1228.7,100.0 L1226.5,101.0 L1224.2,102.2 L1221.7,103.5 L1219.2,104.8 L1216.5,106.3 L1213.9,107.7 L1211.2,109.2 L1208.5,110.7 L1205.9,112.2 L1203.4,113.6 L1201.0,115.0 L1198.7,116.2 L1196.7,117.4 L1194.8,118.5 L1193.2,119.4 L1191.9,120.1 L1191.5,120.3 L1191.1,120.5 L1190.8,120.7 L1190.5,120.8 L1190.2,121.0 L1189.9,121.1 L1189.6,121.2 L1189.4,121.4 L1189.1,121.5 L1188.9,121.6 L1188.6,121.7 L1188.4,121.9 L1188.2,122.0 L1188.0,122.2 L1187.7,122.3 L1187.5,122.5 L1187.3,122.7 L1187.1,122.9 L1186.9,123.1 L1186.7,123.3 L1186.5,123.5 L1186.3,123.7 L1186.1,123.9 L1185.9,124.1 L1185.8,124.4 L1185.6,124.6 L1185.4,124.8 L1185.2,125.1 L1185.0,125.4 L1184.7,125.7 L1184.5,126.0 L1184.2,126.3 L1183.6,127.0 L1182.8,127.9 L1181.9,128.8 L1181.0,129.8 L1180.1,130.9 L1179.0,132.0 L1178.0,133.2 L1176.9,134.4 L1175.8,135.6 L1174.7,136.9 L1173.5,138.1 L1172.4,139.4 L1171.4,140.7 L1170.3,142.0 L1169.3,143.3 L1168.4,144.5 L1167.5,145.7 L1166.6,147.0 L1165.7,148.2 L1164.8,149.5 L1164.0,150.7 L1163.1,151.9 L1162.3,153.2 L1161.4,154.5 L1160.6,155.8 L1159.8,157.1 L1159.0,158.5 L1158.2,159.9 L1157.4,161.3 L1156.6,162.8 L1155.9,164.3 L1155.1,165.9" fill="none" stroke="#236ccc" stroke-width="7.5" stroke-linecap="round" stroke-dasharray="3.00 98.36" stroke-dashoffset="28.68" clip-path="url(#clip1)"/><path d="M1155.1,165.9 L1154.1,168.1 L1153.1,170.4 L1152.1,172.8 L1151.1,175.3 L1150.1,177.9 L1149.1,180.5 L1148.2,183.2 L1147.2,186.0 L1146.3,188.7 L1145.4,191.4 L1144.6,194.1 L1143.7,196.8 L1142.9,199.4 L1142.2,201.9 L1141.5,204.4 L1140.8,206.7 L1140.3,208.4 L1139.9,210.1 L1139.4,211.8 L1139.0,213.5 L1138.6,215.1 L1138.3,216.7 L1137.9,218.2 L1137.6,219.8 L1137.3,221.3 L1136.9,222.9 L1136.6,224.4 L1136.3,226.0 L1136.1,227.5 L1135.8,229.1 L1135.5,230.6 L1135.2,232.2 L1134.9,233.8 L1134.6,235.3 L1134.4,236.8 L1134.1,238.3 L1133.9,239.8 L1133.6,241.3 L1133.4,242.8 L1133.2,244.3 L1132.9,245.8 L1132.7,247.3 L1132.5,248.9 L1132.3,250.5 L1132.1,252.1 L1132.0,253.7 L1131.8,255.4 L1131.6,257.2" fill="none" stroke="#236ccc" stroke-width="7.5" stroke-linejoin="round" stroke-linecap="butt" stroke-dasharray="47.00 47.66" stroke-dashoffset="0.00" clip-path="url(#clip1)"/><path d="M1155.1,165.9 L1154.1,168.1 L1153.1,170.4 L1152.1,172.8 L1151.1,175.3 L1150.1,177.9 L1149.1,180.5 L1148.2,183.2 L1147.2,186.0 L1146.3,188.7 L1145.4,191.4 L1144.6,194.1 L1143.7,196.8 L1142.9,199.4 L1142.2,201.9 L1141.5,204.4 L1140.8,206.7 L1140.3,208.4 L1139.9,210.1 L1139.4,211.8 L1139.0,213.5 L1138.6,215.1 L1138.3,216.7 L1137.9,218.2 L1137.6,219.8 L1137.3,221.3 L1136.9,222.9 L1136.6,224.4 L1136.3,226.0 L1136.1,227.5 L1135.8,229.1 L1135.5,230.6 L1135.2,232.2 L1134.9,233.8 L1134.6,235.3 L1134.4,236.8 L1134.1,238.3 L1133.9,239.8 L1133.6,241.3 L1133.4,242.8 L1133.2,244.3 L1132.9,245.8 L1132.7,247.3 L1132.5,248.9 L1132.3,250.5 L1132.1,252.1 L1132.0,253.7 L1131.8,255.4 L1131.6,257.2" fill="none" stroke="#236ccc" stroke-width="7.5" stroke-linecap="round" stroke-dasharray="3.00 91.66" stroke-dashoffset="25.33" clip-path="url(#clip1)"/><path d="M1131.6,257.2 L1131.4,259.6 L1131.2,262.1 L1131.0,264.7 L1130.8,267.5 L1130.6,270.2 L1130.5,273.1 L1130.3,275.9 L1130.2,278.8 L1130.1,281.7 L1129.9,284.6 L1129.8,287.4 L1129.8,290.2 L1129.7,292.9 L1129.7,295.6 L1129.6,298.2 L1129.6,300.6 L1129.6,302.4 L1129.6,304.2 L1129.7,306.0 L1129.7,307.7 L1129.8,309.4 L1129.9,311.0 L1129.9,312.6 L1130.0,314.3 L1130.1,315.9 L1130.2,317.4 L1130.3,319.0 L1130.4,320.6 L1130.4,322.2 L1130.5,323.8 L1130.6,325.5 L1130.6,327.1 L1130.6,328.7 L1130.6,330.3 L1130.6,331.9 L1130.6,333.4 L1130.6,335.0 L1130.6,336.5 L1130.6,338.1 L1130.6,339.6 L1130.6,341.2 L1130.6,342.8 L1130.6,344.4 L1130.6,346.2 L1130.6,347.9 L1130.6,349.8 L1130.6,351.7 L1130.6,353.7" fill="none" stroke="#236ccc" stroke-width="7.5" stroke-linejoin="round" stroke-linecap="butt" stroke-dasharray="47.00 49.58" stroke-dashoffset="0.00" clip-path="url(#clip1)"/><path d="M1131.6,257.2 L1131.4,259.6 L1131.2,262.1 L1131.0,264.7 L1130.8,267.5 L1130.6,270.2 L1130.5,273.1 L1130.3,275.9 L1130.2,278.8 L1130.1,281.7 L1129.9,284.6 L1129.8,287.4 L1129.8,290.2 L1129.7,292.9 L1129.7,295.6 L1129.6,298.2 L1129.6,300.6 L1129.6,302.4 L1129.6,304.2 L1129.7,306.0 L1129.7,307.7 L1129.8,309.4 L1129.9,311.0 L1129.9,312.6 L1130.0,314.3 L1130.1,315.9 L1130.2,317.4 L1130.3,319.0 L1130.4,320.6 L1130.4,322.2 L1130.5,323.8 L1130.6,325.5 L1130.6,327.1 L1130.6,328.7 L1130.6,330.3 L1130.6,331.9 L1130.6,333.4 L1130.6,335.0 L1130.6,336.5 L1130.6,338.1 L1130.6,339.6 L1130.6,341.2 L1130.6,342.8 L1130.6,344.4 L1130.6,346.2 L1130.6,347.9 L1130.6,349.8 L1130.6,351.7 L1130.6,353.7" fill="none" stroke="#236ccc" stroke-width="7.5" stroke-linecap="round" stroke-dasharray="3.00 93.58" stroke-dashoffset="26.29" clip-path="url(#clip1)"/><path d="M1130.6,353.7 L1130.7,357.2 L1130.7,361.1 L1130.8,365.3 L1130.9,369.7 L1131.0,374.3 L1131.1,379.1 L1131.2,383.9 L1131.3,388.9 L1131.5,393.8 L1131.6,398.6 L1131.7,403.4 L1131.9,408.0 L1132.0,412.4 L1132.2,416.6 L1132.3,420.5 L1132.5,424.0 L1132.6,426.0 L1132.7,427.9 L1132.8,429.7 L1132.9,431.4 L1133.1,433.0 L1133.2,434.6 L1133.3,436.1 L1133.4,437.7 L1133.5,439.2 L1133.7,440.7 L1133.8,442.2 L1133.9,443.7 L1134.0,445.4 L1134.1,447.0 L1134.1,448.8 L1134.2,450.6" fill="none" stroke="#236ccc" stroke-width="7.5" stroke-linejoin="round" stroke-linecap="butt" stroke-dasharray="47.00 49.98" stroke-dashoffset="0.00" clip-path="url(#clip1)"/><path d="M1130.6,353.7 L1130.7,357.2 L1130.7,361.1 L1130.8,365.3 L1130.9,369.7 L1131.0,374.3 L1131.1,379.1 L1131.2,383.9 L1131.3,388.9 L1131.5,393.8 L1131.6,398.6 L1131.7,403.4 L1131.9,408.0 L1132.0,412.4 L1132.2,416.6 L1132.3,420.5 L1132.5,424.0 L1132.6,426.0 L1132.7,427.9 L1132.8,429.7 L1132.9,431.4 L1133.1,433.0 L1133.2,434.6 L1133.3,436.1 L1133.4,437.7 L1133.5,439.2 L1133.7,440.7 L1133.8,442.2 L1133.9,443.7 L1134.0,445.4 L1134.1,447.0 L1134.1,448.8 L1134.2,450.6" fill="none" stroke="#236ccc" stroke-width="7.5" stroke-linecap="round" stroke-dasharray="3.00 93.98" stroke-dashoffset="26.49" clip-path="url(#clip1)"/><path d="M1134.2,450.6 L1134.3,453.1 L1134.3,455.8 L1134.4,458.6 L1134.4,461.4 L1134.4,464.3 L1134.4,467.3 L1134.4,470.3 L1134.4,473.4 L1134.3,476.4 L1134.3,479.4 L1134.3,482.4 L1134.3,485.3 L1134.2,488.1 L1134.2,490.9 L1134.2,493.5 L1134.2,496.0 L1134.2,497.8 L1134.2,499.5 L1134.2,501.1 L1134.2,502.8 L1134.2,504.3 L1134.2,505.9 L1134.2,507.4 L1134.2,508.9 L1134.2,510.4 L1134.2,511.9 L1134.2,513.4 L1134.2,514.9 L1134.2,516.4 L1134.2,517.9 L1134.2,519.4 L1134.2,521.0 L1134.2,522.6 L1134.2,524.2 L1134.3,525.8 L1134.3,527.4 L1134.3,529.0 L1134.3,530.6 L1134.4,532.2 L1134.4,533.8 L1134.5,535.4 L1134.5,537.1 L1134.5,538.7 L1134.6,540.4 L1134.6,542.2 L1134.6,543.9 L1134.7,545.7 L1134.7,547.6" fill="none" stroke="#236ccc" stroke-width="7.5" stroke-linejoin="round" stroke-linecap="butt" stroke-dasharray="47.00 50.01" stroke-dashoffset="0.00" clip-path="url(#clip1)"/><path d="M1134.2,450.6 L1134.3,453.1 L1134.3,455.8 L1134.4,458.6 L1134.4,461.4 L1134.4,464.3 L1134.4,467.3 L1134.4,470.3 L1134.4,473.4 L1134.3,476.4 L1134.3,479.4 L1134.3,482.4 L1134.3,485.3 L1134.2,488.1 L1134.2,490.9 L1134.2,493.5 L1134.2,496.0 L1134.2,497.8 L1134.2,499.5 L1134.2,501.1 L1134.2,502.8 L1134.2,504.3 L1134.2,505.9 L1134.2,507.4 L1134.2,508.9 L1134.2,510.4 L1134.2,511.9 L1134.2,513.4 L1134.2,514.9 L1134.2,516.4 L1134.2,517.9 L1134.2,519.4 L1134.2,521.0 L1134.2,522.6 L1134.2,524.2 L1134.3,525.8 L1134.3,527.4 L1134.3,529.0 L1134.3,530.6 L1134.4,532.2 L1134.4,533.8 L1134.5,535.4 L1134.5,537.1 L1134.5,538.7 L1134.6,540.4 L1134.6,542.2 L1134.6,543.9 L1134.7,545.7 L1134.7,547.6" fill="none" stroke="#236ccc" stroke-width="7.5" stroke-linecap="round" stroke-dasharray="3.00 94.01" stroke-dashoffset="26.50" clip-path="url(#clip1)"/><path d="M1134.7,547.6 L1134.7,550.1 L1134.8,552.8 L1134.9,555.5 L1134.9,558.4 L1135.0,561.3 L1135.1,564.3 L1135.2,567.3 L1135.2,570.3 L1135.3,573.4 L1135.4,576.4 L1135.4,579.3 L1135.4,582.3 L1135.5,585.1 L1135.5,587.8 L1135.4,590.5 L1135.4,593.0 L1135.4,594.8 L1135.3,596.6 L1135.2,598.3 L1135.2,600.0 L1135.1,601.7 L1135.0,603.3 L1134.9,604.9 L1134.8,606.5 L1134.7,608.0 L1134.6,609.6 L1134.5,611.1 L1134.4,612.7 L1134.3,614.2 L1134.2,615.8 L1134.0,617.4 L1133.9,619.0 L1133.8,620.6 L1133.6,622.2 L1133.5,623.8 L1133.4,625.3 L1133.2,626.9 L1133.1,628.5 L1132.9,630.0 L1132.8,631.6 L1132.6,633.2 L1132.5,634.8 L1132.3,636.4 L1132.1,638.0 L1131.9,639.7 L1131.7,641.4 L1131.5,643.2 L1131.3,645.0" fill="none" stroke="#236ccc" stroke-width="7.5" stroke-linejoin="round" stroke-linecap="butt" stroke-dasharray="47.00 50.59" stroke-dashoffset="0.00" clip-path="url(#clip1)"/><path d="M1134.7,547.6 L1134.7,550.1 L1134.8,552.8 L1134.9,555.5 L1134.9,558.4 L1135.0,561.3 L1135.1,564.3 L1135.2,567.3 L1135.2,570.3 L1135.3,573.4 L1135.4,576.4 L1135.4,579.3 L1135.4,582.3 L1135.5,585.1 L1135.5,587.8 L1135.4,590.5 L1135.4,593.0 L1135.4,594.8 L1135.3,596.6 L1135.2,598.3 L1135.2,600.0 L1135.1,601.7 L1135.0,603.3 L1134.9,604.9 L1134.8,606.5 L1134.7,608.0 L1134.6,609.6 L1134.5,611.1 L1134.4,612.7 L1134.3,614.2 L1134.2,615.8 L1134.0,617.4 L1133.9,619.0 L1133.8,620.6 L1133.6,622.2 L1133.5,623.8 L1133.4,625.3 L1133.2,626.9 L1133.1,628.5 L1132.9,630.0 L1132.8,631.6 L1132.6,633.2 L1132.5,634.8 L1132.3,636.4 L1132.1,638.0 L1131.9,639.7 L1131.7,641.4 L1131.5,643.2 L1131.3,645.0" fill="none" stroke="#236ccc" stroke-width="7.5" stroke-linecap="round" stroke-dasharray="3.00 94.59" stroke-dashoffset="26.79" clip-path="url(#clip1)"/><path d="M1131.3,645.0 L1131.0,647.5 L1130.7,650.1 L1130.3,652.8 L1129.9,655.6 L1129.5,658.4 L1129.1,661.3 L1128.7,664.3 L1128.3,667.2 L1127.9,670.2 L1127.5,673.1 L1127.0,676.0 L1126.6,678.9 L1126.2,681.7 L1125.9,684.4 L1125.5,686.9 L1125.2,689.4 L1125.0,691.2 L1124.7,692.9 L1124.5,694.6 L1124.3,696.3 L1124.1,697.9 L1123.9,699.5 L1123.7,701.0 L1123.5,702.6 L1123.4,704.1 L1123.2,705.6 L1123.0,707.1 L1122.8,708.7 L1122.6,710.2 L1122.5,711.7 L1122.3,713.3 L1122.1,714.9 L1121.9,716.5 L1121.7,718.1 L1121.5,719.7 L1121.4,721.3 L1121.2,722.9 L1121.0,724.5 L1120.8,726.1 L1120.7,727.7 L1120.5,729.3 L1120.3,730.9 L1120.1,732.6 L1120.0,734.3 L1119.8,736.0 L1119.6,737.7 L1119.5,739.6 L1119.3,741.4" fill="none" stroke="#236ccc" stroke-width="7.5" stroke-linejoin="round" stroke-linecap="butt" stroke-dasharray="47.00 50.15" stroke-dashoffset="0.00" clip-path="url(#clip1)"/><path d="M1131.3,645.0 L1131.0,647.5 L1130.7,650.1 L1130.3,652.8 L1129.9,655.6 L1129.5,658.4 L1129.1,661.3 L1128.7,664.3 L1128.3,667.2 L1127.9,670.2 L1127.5,673.1 L1127.0,676.0 L1126.6,678.9 L1126.2,681.7 L1125.9,684.4 L1125.5,686.9 L1125.2,689.4 L1125.0,691.2 L1124.7,692.9 L1124.5,694.6 L1124.3,696.3 L1124.1,697.9 L1123.9,699.5 L1123.7,701.0 L1123.5,702.6 L1123.4,704.1 L1123.2,705.6 L1123.0,707.1 L1122.8,708.7 L1122.6,710.2 L1122.5,711.7 L1122.3,713.3 L1122.1,714.9 L1121.9,716.5 L1121.7,718.1 L1121.5,719.7 L1121.4,721.3 L1121.2,722.9 L1121.0,724.5 L1120.8,726.1 L1120.7,727.7 L1120.5,729.3 L1120.3,730.9 L1120.1,732.6 L1120.0,734.3 L1119.8,736.0 L1119.6,737.7 L1119.5,739.6 L1119.3,741.4" fill="none" stroke="#236ccc" stroke-width="7.5" stroke-linecap="round" stroke-dasharray="3.00 94.15" stroke-dashoffset="26.58" clip-path="url(#clip1)"/><path d="M1119.3,741.4 L1119.3,741.4 L1119.1,743.9 L1118.9,746.5 L1118.7,749.3 L1118.4,752.1 L1118.2,755.0 L1118.0,757.9 L1117.8,760.9 L1117.6,763.9 L1117.4,766.9 L1117.2,769.8 L1117.0,772.8 L1116.8,775.7 L1116.6,778.5 L1116.5,781.2 L1116.3,783.8 L1116.2,786.3 L1116.1,788.1 L1116.0,789.9 L1115.9,791.7 L1115.8,793.4 L1115.7,795.1 L1115.7,796.8 L1115.6,798.4 L1115.5,800.0 L1115.4,801.6 L1115.4,803.2 L1115.3,804.7 L1115.3,806.3 L1115.3,807.8 L1115.2,809.3 L1115.2,810.8 L1115.2,812.3 L1115.2,813.6 L1115.2,814.9 L1115.2,816.2 L1115.3,817.5 L1115.3,818.8 L1115.4,820.1 L1115.4,821.3 L1115.5,822.6 L1115.5,823.8 L1115.6,825.0 L1115.6,826.1 L1115.7,827.2 L1115.7,828.3 L1115.8,829.3 L1115.8,830.2 L1115.8,831.0 L1115.8,831.4 L1115.8,831.8 L1115.8,832.1 L1115.8,832.5 L1115.8,832.8 L1115.8,833.1 L1115.8,833.4 L1115.8,833.7 L1115.8,834.0 L1115.8,834.3 L1115.8,834.6 L1115.8,834.8 L1115.9,835.1 L1115.9,835.4 L1115.9,835.7 L1116.0,836.0 L1116.1,836.3 L1116.1,836.6 L1116.2,836.8 L1116.3,837.1 L1116.4,837.3 L1116.5,837.6 L1116.6,837.8 L1116.6,838.0" fill="none" stroke="#236ccc" stroke-width="7.5" stroke-linejoin="round" stroke-linecap="butt" stroke-dasharray="47.00 49.86" stroke-dashoffset="0.00" clip-path="url(#clip1)"/><path d="M1119.3,741.4 L1119.3,741.4 L1119.1,743.9 L1118.9,746.5 L1118.7,749.3 L1118.4,752.1 L1118.2,755.0 L1118.0,757.9 L1117.8,760.9 L1117.6,763.9 L1117.4,766.9 L1117.2,769.8 L1117.0,772.8 L1116.8,775.7 L1116.6,778.5 L1116.5,781.2 L1116.3,783.8 L1116.2,786.3 L1116.1,788.1 L1116.0,789.9 L1115.9,791.7 L1115.8,793.4 L1115.7,795.1 L1115.7,796.8 L1115.6,798.4 L1115.5,800.0 L1115.4,801.6 L1115.4,803.2 L1115.3,804.7 L1115.3,806.3 L1115.3,807.8 L1115.2,809.3 L1115.2,810.8 L1115.2,812.3 L1115.2,813.6 L1115.2,814.9 L1115.2,816.2 L1115.3,817.5 L1115.3,818.8 L1115.4,820.1 L1115.4,821.3 L1115.5,822.6 L1115.5,823.8 L1115.6,825.0 L1115.6,826.1 L1115.7,827.2 L1115.7,828.3 L1115.8,829.3 L1115.8,830.2 L1115.8,831.0 L1115.8,831.4 L1115.8,831.8 L1115.8,832.1 L1115.8,832.5 L1115.8,832.8 L1115.8,833.1 L1115.8,833.4 L1115.8,833.7 L1115.8,834.0 L1115.8,834.3 L1115.8,834.6 L1115.8,834.8 L1115.9,835.1 L1115.9,835.4 L1115.9,835.7 L1116.0,836.0 L1116.1,836.3 L1116.1,836.6 L1116.2,836.8 L1116.3,837.1 L1116.4,837.3 L1116.5,837.6 L1116.6,837.8 L1116.6,838.0" fill="none" stroke="#236ccc" stroke-width="7.5" stroke-linecap="round" stroke-dasharray="3.00 93.86" stroke-dashoffset="26.43" clip-path="url(#clip1)"/><path d="M1116.6,838.0 L1116.7,838.1 L1116.8,838.3 L1116.9,838.6 L1117.0,838.9 L1117.2,839.2 L1117.3,839.5 L1117.5,839.9 L1117.6,840.3 L1117.8,840.7 L1118.3,842.1 L1118.9,843.9 L1119.6,846.0 L1120.4,848.3 L1121.3,850.8 L1122.2,853.5 L1123.2,856.3 L1124.2,859.2 L1125.3,862.2 L1126.3,865.2 L1127.5,868.1 L1128.6,871.0 L1129.7,873.8 L1130.9,876.5 L1132.0,878.9 L1133.1,881.2 L1134.0,882.9 L1134.9,884.5 L1135.9,886.1 L1136.9,887.7 L1137.9,889.2 L1138.9,890.6 L1139.9,892.1 L1140.9,893.5 L1141.9,894.9 L1143.0,896.3 L1144.0,897.7 L1145.0,899.0 L1146.0,900.4 L1147.0,901.8 L1147.9,903.3 L1148.9,904.7 L1149.8,906.1 L1150.7,907.5 L1151.6,908.9 L1152.5,910.2 L1153.3,911.6 L1154.2,912.9 L1155.1,914.3 L1155.9,915.6 L1156.8,917.0 L1157.7,918.4 L1158.5,919.8 L1159.3,921.2 L1160.2,922.6 L1161.0,924.1 L1161.9,925.6 L1162.7,927.1" fill="none" stroke="#236ccc" stroke-width="7.5" stroke-linejoin="round" stroke-linecap="butt" stroke-dasharray="47.00 53.92" stroke-dashoffset="0.00" clip-path="url(#clip1)"/><path d="M1116.6,838.0 L1116.7,838.1 L1116.8,838.3 L1116.9,838.6 L1117.0,838.9 L1117.2,839.2 L1117.3,839.5 L1117.5,839.9 L1117.6,840.3 L1117.8,840.7 L1118.3,842.1 L1118.9,843.9 L1119.6,846.0 L1120.4,848.3 L1121.3,850.8 L1122.2,853.5 L1123.2,856.3 L1124.2,859.2 L1125.3,862.2 L1126.3,865.2 L1127.5,868.1 L1128.6,871.0 L1129.7,873.8 L1130.9,876.5 L1132.0,878.9 L1133.1,881.2 L1134.0,882.9 L1134.9,884.5 L1135.9,886.1 L1136.9,887.7 L1137.9,889.2 L1138.9,890.6 L1139.9,892.1 L1140.9,893.5 L1141.9,894.9 L1143.0,896.3 L1144.0,897.7 L1145.0,899.0 L1146.0,900.4 L1147.0,901.8 L1147.9,903.3 L1148.9,904.7 L1149.8,906.1 L1150.7,907.5 L1151.6,908.9 L1152.5,910.2 L1153.3,911.6 L1154.2,912.9 L1155.1,914.3 L1155.9,915.6 L1156.8,917.0 L1157.7,918.4 L1158.5,919.8 L1159.3,921.2 L1160.2,922.6 L1161.0,924.1 L1161.9,925.6 L1162.7,927.1" fill="none" stroke="#236ccc" stroke-width="7.5" stroke-linecap="round" stroke-dasharray="3.00 97.92" stroke-dashoffset="28.46" clip-path="url(#clip1)"/><path d="M1162.7,927.1 L1163.7,928.9 L1164.7,930.9 L1165.7,933.0 L1166.8,935.2 L1167.8,937.4 L1168.9,939.6 L1169.9,941.9 L1170.9,944.1 L1171.9,946.3 L1172.9,948.4 L1173.8,950.5 L1174.7,952.4 L1175.5,954.2 L1176.2,955.8 L1176.8,957.2 L1177.4,958.4 L1177.6,958.8 L1177.7,959.1 L1177.9,959.5 L1178.1,959.8 L1178.3,960.1 L1178.4,960.3 L1178.6,960.6 L1178.7,960.9 L1178.8,961.1 L1179.0,961.3 L1179.1,961.6 L1179.2,961.8 L1179.3,962.1 L1179.4,962.3 L1179.4,962.6 L1179.5,962.9 L1179.5,963.2 L1179.6,963.5 L1179.6,963.8 L1179.6,964.0 L1179.6,964.3 L1179.6,964.6 L1179.6,964.9 L1179.5,965.1 L1179.5,965.4 L1179.4,965.7 L1179.4,966.1 L1179.4,966.4 L1179.3,966.7 L1179.3,967.1 L1179.3,967.5 L1179.2,967.9 L1179.2,968.9 L1179.1,969.9 L1179.1,971.1 L1179.1,972.3 L1179.0,973.7 L1179.0,975.1 L1179.0,976.5 L1178.9,978.0 L1178.9,979.5 L1178.8,981.1 L1178.7,982.7 L1178.6,984.3 L1178.5,985.8 L1178.4,987.4 L1178.2,988.9 L1178.0,990.4 L1177.7,992.0 L1177.4,993.7 L1177.1,995.3 L1176.7,997.0 L1176.3,998.6 L1175.9,1000.3 L1175.5,1002.0 L1175.0,1003.7 L1174.6,1005.4 L1174.1,1007.1 L1173.7,1008.8 L1173.2,1010.6 L1172.8,1012.4 L1172.5,1014.2 L1172.1,1016.1 L1171.8,1018.0" fill="none" stroke="#236ccc" stroke-width="7.5" stroke-linejoin="round" stroke-linecap="butt" stroke-dasharray="47.00 48.45" stroke-dashoffset="0.00" clip-path="url(#clip1)"/><path d="M1162.7,927.1 L1163.7,928.9 L1164.7,930.9 L1165.7,933.0 L1166.8,935.2 L1167.8,937.4 L1168.9,939.6 L1169.9,941.9 L1170.9,944.1 L1171.9,946.3 L1172.9,948.4 L1173.8,950.5 L1174.7,952.4 L1175.5,954.2 L1176.2,955.8 L1176.8,957.2 L1177.4,958.4 L1177.6,958.8 L1177.7,959.1 L1177.9,959.5 L1178.1,959.8 L1178.3,960.1 L1178.4,960.3 L1178.6,960.6 L1178.7,960.9 L1178.8,961.1 L1179.0,961.3 L1179.1,961.6 L1179.2,961.8 L1179.3,962.1 L1179.4,962.3 L1179.4,962.6 L1179.5,962.9 L1179.5,963.2 L1179.6,963.5 L1179.6,963.8 L1179.6,964.0 L1179.6,964.3 L1179.6,964.6 L1179.6,964.9 L1179.5,965.1 L1179.5,965.4 L1179.4,965.7 L1179.4,966.1 L1179.4,966.4 L1179.3,966.7 L1179.3,967.1 L1179.3,967.5 L1179.2,967.9 L1179.2,968.9 L1179.1,969.9 L1179.1,971.1 L1179.1,972.3 L1179.0,973.7 L1179.0,975.1 L1179.0,976.5 L1178.9,978.0 L1178.9,979.5 L1178.8,981.1 L1178.7,982.7 L1178.6,984.3 L1178.5,985.8 L1178.4,987.4 L1178.2,988.9 L1178.0,990.4 L1177.7,992.0 L1177.4,993.7 L1177.1,995.3 L1176.7,997.0 L1176.3,998.6 L1175.9,1000.3 L1175.5,1002.0 L1175.0,1003.7 L1174.6,1005.4 L1174.1,1007.1 L1173.7,1008.8 L1173.2,1010.6 L1172.8,1012.4 L1172.5,1014.2 L1172.1,1016.1 L1171.8,1018.0" fill="none" stroke="#236ccc" stroke-width="7.5" stroke-linecap="round" stroke-dasharray="3.00 92.45" stroke-dashoffset="25.72" clip-path="url(#clip1)"/><path d="M1171.8,1018.0 L1171.4,1020.4 L1171.1,1022.9 L1170.7,1025.5 L1170.4,1028.1 L1170.1,1030.8 L1169.8,1033.5 L1169.5,1036.3 L1169.2,1039.1 L1169.0,1041.8 L1168.8,1044.6 L1168.6,1047.3 L1168.5,1050.0 L1168.4,1052.7 L1168.4,1055.2 L1168.4,1057.7 L1168.5,1060.1 L1168.6,1062.0 L1168.8,1063.8 L1169.0,1065.6 L1169.2,1067.4 L1169.5,1069.1 L1169.8,1070.8 L1170.1,1072.5 L1170.5,1074.2 L1170.8,1075.9 L1171.2,1077.5 L1171.6,1079.1 L1171.9,1080.8 L1172.3,1082.4 L1172.7,1084.0 L1173.0,1085.6 L1173.3,1087.2 L1173.6,1088.7 L1173.9,1090.2 L1174.2,1091.7 L1174.5,1093.3 L1174.8,1094.9 L1175.1,1096.4 L1175.4,1098.0 L1175.7,1099.5 L1176.0,1101.0 L1176.2,1102.4 L1176.5,1103.8 L1176.8,1105.1 L1177.0,1106.3 L1177.3,1107.5 L1177.5,1108.5 L1177.6,1109.5 L1177.7,1109.9 L1177.8,1110.3 L1177.9,1110.6 L1178.0,1111.0 L1178.1,1111.3 L1178.2,1111.6 L1178.3,1111.9 L1178.4,1112.2 L1178.5,1112.5 L1178.5,1112.8 L1178.6,1113.0 L1178.6,1113.3 L1178.7,1113.6 L1178.7,1113.8 L1178.6,1114.1 L1178.6,1114.4" fill="none" stroke="#236ccc" stroke-width="7.5" stroke-linejoin="round" stroke-linecap="butt" stroke-dasharray="47.00 50.60" stroke-dashoffset="0.00" clip-path="url(#clip1)"/><path d="M1171.8,1018.0 L1171.4,1020.4 L1171.1,1022.9 L1170.7,1025.5 L1170.4,1028.1 L1170.1,1030.8 L1169.8,1033.5 L1169.5,1036.3 L1169.2,1039.1 L1169.0,1041.8 L1168.8,1044.6 L1168.6,1047.3 L1168.5,1050.0 L1168.4,1052.7 L1168.4,1055.2 L1168.4,1057.7 L1168.5,1060.1 L1168.6,1062.0 L1168.8,1063.8 L1169.0,1065.6 L1169.2,1067.4 L1169.5,1069.1 L1169.8,1070.8 L1170.1,1072.5 L1170.5,1074.2 L1170.8,1075.9 L1171.2,1077.5 L1171.6,1079.1 L1171.9,1080.8 L1172.3,1082.4 L1172.7,1084.0 L1173.0,1085.6 L1173.3,1087.2 L1173.6,1088.7 L1173.9,1090.2 L1174.2,1091.7 L1174.5,1093.3 L1174.8,1094.9 L1175.1,1096.4 L1175.4,1098.0 L1175.7,1099.5 L1176.0,1101.0 L1176.2,1102.4 L1176.5,1103.8 L1176.8,1105.1 L1177.0,1106.3 L1177.3,1107.5 L1177.5,1108.5 L1177.6,1109.5 L1177.7,1109.9 L1177.8,1110.3 L1177.9,1110.6 L1178.0,1111.0 L1178.1,1111.3 L1178.2,1111.6 L1178.3,1111.9 L1178.4,1112.2 L1178.5,1112.5 L1178.5,1112.8 L1178.6,1113.0 L1178.6,1113.3 L1178.7,1113.6 L1178.7,1113.8 L1178.6,1114.1 L1178.6,1114.4" fill="none" stroke="#236ccc" stroke-width="7.5" stroke-linecap="round" stroke-dasharray="3.00 94.60" stroke-dashoffset="26.80" clip-path="url(#clip1)"/><path d="M1178.6,1114.4 L1178.5,1114.7 L1178.5,1114.9 L1178.4,1115.2 L1178.2,1115.4 L1178.1,1115.6 L1178.0,1115.9 L1177.8,1116.1 L1177.7,1116.3 L1177.5,1116.5 L1177.3,1116.8 L1177.1,1117.0 L1176.9,1117.3 L1176.6,1117.6 L1176.4,1117.9 L1176.2,1118.2 L1175.9,1118.6 L1175.1,1119.9 L1174.2,1121.6 L1173.1,1123.5 L1172.0,1125.6 L1170.7,1128.0 L1169.4,1130.5 L1167.9,1133.1 L1166.4,1135.7 L1164.9,1138.4 L1163.3,1141.1 L1161.6,1143.7 L1159.9,1146.2 L1158.3,1148.6 L1156.6,1150.8 L1154.9,1152.8 L1153.2,1154.5 L1151.9,1155.7 L1150.5,1156.8 L1149.1,1157.8 L1147.6,1158.7 L1146.2,1159.6 L1144.7,1160.4 L1143.2,1161.1 L1141.7,1161.8 L1140.1,1162.5 L1138.6,1163.2 L1137.1,1163.9 L1135.6,1164.6 L1134.0,1165.2 L1132.5,1166.0 L1131.1,1166.7 L1129.6,1167.5 L1128.2,1168.3 L1126.8,1169.1 L1125.5,1169.9 L1124.1,1170.7 L1122.8,1171.6 L1121.4,1172.4 L1120.1,1173.2 L1118.8,1174.0 L1117.4,1174.8 L1116.1,1175.7 L1114.7,1176.5 L1113.3,1177.3 L1111.8,1178.1 L1110.3,1178.9 L1108.8,1179.7 L1107.2,1180.5" fill="none" stroke="#236ccc" stroke-width="7.5" stroke-linejoin="round" stroke-linecap="butt" stroke-dasharray="47.00 53.62" stroke-dashoffset="0.00" clip-path="url(#clip1)"/><path d="M1178.6,1114.4 L1178.5,1114.7 L1178.5,1114.9 L1178.4,1115.2 L1178.2,1115.4 L1178.1,1115.6 L1178.0,1115.9 L1177.8,1116.1 L1177.7,1116.3 L1177.5,1116.5 L1177.3,1116.8 L1177.1,1117.0 L1176.9,1117.3 L1176.6,1117.6 L1176.4,1117.9 L1176.2,1118.2 L1175.9,1118.6 L1175.1,1119.9 L1174.2,1121.6 L1173.1,1123.5 L1172.0,1125.6 L1170.7,1128.0 L1169.4,1130.5 L1167.9,1133.1 L1166.4,1135.7 L1164.9,1138.4 L1163.3,1141.1 L1161.6,1143.7 L1159.9,1146.2 L1158.3,1148.6 L1156.6,1150.8 L1154.9,1152.8 L1153.2,1154.5 L1151.9,1155.7 L1150.5,1156.8 L1149.1,1157.8 L1147.6,1158.7 L1146.2,1159.6 L1144.7,1160.4 L1143.2,1161.1 L1141.7,1161.8 L1140.1,1162.5 L1138.6,1163.2 L1137.1,1163.9 L1135.6,1164.6 L1134.0,1165.2 L1132.5,1166.0 L1131.1,1166.7 L1129.6,1167.5 L1128.2,1168.3 L1126.8,1169.1 L1125.5,1169.9 L1124.1,1170.7 L1122.8,1171.6 L1121.4,1172.4 L1120.1,1173.2 L1118.8,1174.0 L1117.4,1174.8 L1116.1,1175.7 L1114.7,1176.5 L1113.3,1177.3 L1111.8,1178.1 L1110.3,1178.9 L1108.8,1179.7 L1107.2,1180.5" fill="none" stroke="#236ccc" stroke-width="7.5" stroke-linecap="round" stroke-dasharray="3.00 97.62" stroke-dashoffset="28.31" clip-path="url(#clip1)"/><path d="M1107.2,1180.5 L1105.1,1181.5 L1102.8,1182.5 L1100.3,1183.6 L1097.8,1184.6 L1095.1,1185.7 L1092.4,1186.7 L1089.7,1187.8 L1087.0,1188.8 L1084.3,1189.8 L1081.7,1190.8 L1079.2,1191.7 L1076.9,1192.7 L1074.7,1193.5 L1072.7,1194.3 L1070.9,1195.1 L1069.4,1195.8 L1068.8,1196.1 L1068.3,1196.3 L1067.8,1196.6 L1067.4,1196.8 L1067.0,1197.1 L1066.6,1197.3 L1066.2,1197.5 L1065.8,1197.8 L1065.5,1198.0 L1065.1,1198.2 L1064.8,1198.4 L1064.5,1198.6 L1064.1,1198.8 L1063.8,1199.0 L1063.4,1199.3 L1063.0,1199.5" fill="none" stroke="#236ccc" stroke-width="7.5" stroke-linejoin="round" stroke-linecap="butt" stroke-dasharray="47.00 50.50" stroke-dashoffset="0.00" clip-path="url(#clip1)"/><path d="M1107.2,1180.5 L1105.1,1181.5 L1102.8,1182.5 L1100.3,1183.6 L1097.8,1184.6 L1095.1,1185.7 L1092.4,1186.7 L1089.7,1187.8 L1087.0,1188.8 L1084.3,1189.8 L1081.7,1190.8 L1079.2,1191.7 L1076.9,1192.7 L1074.7,1193.5 L1072.7,1194.3 L1070.9,1195.1 L1069.4,1195.8 L1068.8,1196.1 L1068.3,1196.3 L1067.8,1196.6 L1067.4,1196.8 L1067.0,1197.1 L1066.6,1197.3 L1066.2,1197.5 L1065.8,1197.8 L1065.5,1198.0 L1065.1,1198.2 L1064.8,1198.4 L1064.5,1198.6 L1064.1,1198.8 L1063.8,1199.0 L1063.4,1199.3 L1063.0,1199.5" fill="none" stroke="#236ccc" stroke-width="7.5" stroke-linecap="round" stroke-dasharray="3.00 94.50" stroke-dashoffset="26.75" clip-path="url(#clip1)"/><path d="M1161.8,79.2 H1173.0 M1202.6,79.2 H1213.8" stroke="#000" stroke-width="3.4" fill="none"/><path d="M1161.8,66.4 V92.0 M1213.8,66.4 V92.0" stroke="#000" stroke-width="4.8" fill="none"/><path d="M1130.0,409.1 H1142.9 M1172.5,409.1 H1185.4" stroke="#000" stroke-width="3.4" fill="none"/><path d="M1130.0,396.3 V421.9 M1185.4,396.3 V421.9" stroke="#000" stroke-width="4.8" fill="none"/><path d="M1093.3,853.8 H1103.2 M1132.8,853.8 H1142.7" stroke="#000" stroke-width="3.4" fill="none"/><path d="M1093.3,841.0 V866.5 M1142.7,841.0 V866.5" stroke="#000" stroke-width="4.8" fill="none"/><rect x="947.5" y="50.5" width="573.5" height="1147.5" fill="none" stroke="#000" stroke-width="5" stroke-linejoin="miter"/><path d="M947.5,1054.6 h11.0 M947.5,911.1 h21.0 M947.5,767.7 h11.0 M947.5,624.2 h21.0 M947.5,480.8 h11.0 M947.5,337.4 h21.0 M947.5,193.9 h11.0 M1043.1,1198.0 v-11.0 M1138.7,1198.0 v-21.0 M1234.2,1198.0 v-11.0 M1329.8,1198.0 v-21.0 M1425.4,1198.0 v-11.0" stroke="#000" stroke-width="5" fill="none"/><text x="923.9" y="1216.5" font-size="65.0" text-anchor="end">0</text><text x="923.9" y="929.6" font-size="65.0" text-anchor="end">5</text><text x="923.9" y="642.8" font-size="65.0" text-anchor="end">10</text><text x="923.9" y="355.9" font-size="65.0" text-anchor="end">15</text><text x="923.9" y="69.0" font-size="65.0" text-anchor="end">20</text><text x="947.5" y="1271.0" font-size="65.0" text-anchor="middle">0.0</text><text x="1138.7" y="1271.0" font-size="65.0" text-anchor="middle">1.0</text><text x="1329.8" y="1271.0" font-size="65.0" text-anchor="middle">2.0</text><text x="1521.0" y="1271.0" font-size="65.0" text-anchor="middle">3.0</text></g>
<g><clipPath id="clip2"><rect x="1713.0" y="50.5" width="573.5" height="1147.5"/></clipPath><rect x="1864.20" y="67.39" width="23.6" height="23.6" fill="#fff" stroke="#000" stroke-width="6.4"/><rect x="1843.20" y="397.29" width="23.6" height="23.6" fill="#fff" stroke="#000" stroke-width="6.4"/><rect x="1868.70" y="841.95" width="23.6" height="23.6" fill="#fff" stroke="#000" stroke-width="6.4"/><path d="M1903.26,44.00 C1903.56,49.33 1903.85,54.67 1904.14,60.00 C1904.43,65.33 1904.72,70.67 1905.01,76.00 C1905.30,81.33 1905.59,86.67 1905.88,92.00 C1906.17,97.33 1906.45,102.67 1906.74,108.00 C1907.03,113.33 1907.31,118.67 1907.60,124.00 C1907.88,129.33 1908.17,134.67 1908.45,140.00 C1908.73,145.33 1909.01,150.67 1909.29,156.00 C1909.57,161.33 1909.85,166.67 1910.13,172.00 C1910.41,177.33 1910.68,182.67 1910.96,188.00 C1911.23,193.33 1911.50,198.67 1911.78,204.00 C1912.05,209.33 1912.31,214.67 1912.58,220.00 C1912.85,225.33 1913.11,230.67 1913.38,236.00 C1913.64,241.33 1913.90,246.67 1914.16,252.00 C1914.42,257.33 1914.67,262.67 1914.92,268.00 C1915.18,273.33 1915.43,278.67 1915.68,284.00 C1915.93,289.33 1916.17,294.67 1916.41,300.00 C1916.66,305.33 1916.90,310.67 1917.13,316.00 C1917.37,321.33 1917.61,326.67 1917.84,332.00 C1918.07,337.33 1918.30,342.67 1918.52,348.00 C1918.75,353.33 1918.97,358.67 1919.19,364.00 C1919.40,369.33 1919.62,374.67 1919.83,380.00 C1920.04,385.33 1920.25,390.67 1920.45,396.00 C1920.66,401.33 1920.86,406.67 1921.05,412.00 C1921.25,417.33 1921.44,422.67 1921.63,428.00 C1921.82,433.33 1922.00,438.67 1922.18,444.00 C1922.36,449.33 1922.54,454.67 1922.71,460.00 C1922.88,465.33 1923.05,470.67 1923.21,476.00 C1923.37,481.33 1923.52,486.67 1923.67,492.00 C1923.82,497.33 1923.96,502.67 1924.10,508.00 C1924.24,513.33 1924.37,518.67 1924.49,524.00 C1924.61,529.33 1924.73,534.67 1924.84,540.00 C1924.95,545.33 1925.05,550.67 1925.14,556.00 C1925.24,561.33 1925.32,566.67 1925.40,572.00 C1925.48,577.33 1925.54,582.67 1925.60,588.00 C1925.66,593.33 1925.71,598.67 1925.76,604.00 C1925.80,609.33 1925.83,614.67 1925.85,620.00 C1925.87,625.33 1925.89,630.67 1925.89,636.00 C1925.89,641.33 1925.88,646.67 1925.86,652.00 C1925.84,657.33 1925.81,662.67 1925.76,668.00 C1925.70,673.33 1925.62,678.67 1925.50,684.00 C1925.38,689.33 1925.23,694.67 1925.02,700.00 C1924.81,705.33 1924.55,710.67 1924.22,716.00 C1923.90,721.33 1923.51,726.67 1923.04,732.00 C1922.57,737.33 1922.03,742.67 1921.39,748.00 C1920.75,753.33 1920.02,758.67 1919.19,764.00 C1918.35,769.33 1917.41,774.67 1916.35,780.00 C1915.29,785.33 1914.12,790.67 1912.81,796.00 C1911.49,801.33 1910.03,806.67 1908.35,812.00 C1906.67,817.33 1904.77,822.67 1902.58,828.00 C1900.40,833.33 1897.93,838.67 1895.09,844.00 C1892.26,849.33 1889.03,854.67 1885.51,860.00 C1881.99,865.33 1878.23,870.67 1874.58,876.00 C1870.93,881.33 1867.41,886.67 1864.24,892.00 C1861.08,897.33 1858.25,902.67 1855.92,908.00 C1853.58,913.33 1851.75,918.67 1850.53,924.00 C1849.31,929.33 1848.66,934.67 1848.36,940.00 C1848.06,945.33 1848.12,950.67 1848.31,956.00 C1848.51,961.33 1848.85,966.67 1849.11,972.00 C1849.37,977.33 1849.57,982.67 1849.68,988.00 C1849.80,993.33 1849.85,998.67 1849.83,1004.00 C1849.81,1009.33 1849.71,1014.67 1849.55,1020.00 C1849.39,1025.33 1849.15,1030.67 1848.85,1036.00 C1848.54,1041.33 1848.16,1046.67 1847.72,1052.00 C1847.27,1057.33 1846.76,1062.67 1846.17,1068.00 C1845.58,1073.33 1844.93,1078.67 1844.20,1084.00 C1843.48,1089.33 1842.68,1094.67 1841.82,1100.00 C1840.95,1105.33 1840.02,1110.67 1839.02,1116.00 C1838.02,1121.33 1836.95,1126.67 1835.81,1132.00 C1834.67,1137.33 1833.46,1142.67 1832.18,1148.00 C1830.91,1153.33 1829.56,1158.67 1828.15,1164.00 C1826.73,1169.33 1825.25,1174.67 1823.71,1180.00 C1822.16,1185.33 1820.54,1190.67 1818.86,1196.00 C1818.01,1198.67 1817.16,1201.33 1816.28,1204.00" fill="none" stroke="#d9474c" stroke-width="7.5" stroke-linejoin="round" stroke-linecap="butt" clip-path="url(#clip2)"/><path d="M2023.0,48.0 L2022.4,48.6 L2021.9,49.3 L2021.3,49.9 L2020.8,50.6 L2020.3,51.2 L2019.8,51.9 L2019.2,52.5 L2018.7,53.1 L2018.2,53.8 L2017.6,54.4 L2017.0,55.0 L2016.4,55.7 L2015.7,56.3 L2015.0,56.9 L2014.3,57.4 L2013.5,58.0 L2012.3,58.8 L2011.0,59.5 L2009.7,60.1 L2008.2,60.8 L2006.7,61.4 L2005.2,62.0 L2003.6,62.5 L2001.9,63.1 L2000.2,63.7 L1998.5,64.2 L1996.8,64.8 L1995.0,65.4 L1993.2,66.1 L1991.5,66.7 L1989.7,67.4 L1987.9,68.2" fill="none" stroke="#236ccc" stroke-width="7.5" stroke-linejoin="round" stroke-linecap="butt" stroke-dasharray="47.00 50.50" stroke-dashoffset="56.04" clip-path="url(#clip2)"/><path d="M2023.0,48.0 L2022.4,48.6 L2021.9,49.3 L2021.3,49.9 L2020.8,50.6 L2020.3,51.2 L2019.8,51.9 L2019.2,52.5 L2018.7,53.1 L2018.2,53.8 L2017.6,54.4 L2017.0,55.0 L2016.4,55.7 L2015.7,56.3 L2015.0,56.9 L2014.3,57.4 L2013.5,58.0 L2012.3,58.8 L2011.0,59.5 L2009.7,60.1 L2008.2,60.8 L2006.7,61.4 L2005.2,62.0 L2003.6,62.5 L2001.9,63.1 L2000.2,63.7 L1998.5,64.2 L1996.8,64.8 L1995.0,65.4 L1993.2,66.1 L1991.5,66.7 L1989.7,67.4 L1987.9,68.2" fill="none" stroke="#236ccc" stroke-width="7.5" stroke-linecap="round" stroke-dasharray="3.00 94.50" stroke-dashoffset="82.79" clip-path="url(#clip2)"/><path d="M1987.9,68.2 L1985.6,69.2 L1983.2,70.3 L1980.7,71.5 L1978.1,72.7 L1975.5,74.0 L1972.8,75.2 L1970.1,76.5 L1967.5,77.9 L1964.8,79.2 L1962.1,80.5 L1959.5,81.8 L1956.9,83.1 L1954.3,84.4 L1951.9,85.6 L1949.5,86.8 L1947.3,87.9 L1945.6,88.7 L1944.0,89.5 L1942.5,90.2 L1940.9,91.0 L1939.4,91.7 L1937.9,92.4 L1936.4,93.1 L1935.0,93.8 L1933.6,94.5 L1932.2,95.2 L1930.8,95.9 L1929.4,96.6 L1928.0,97.4 L1926.6,98.2 L1925.2,99.0 L1923.8,99.9 L1922.4,100.8 L1920.9,101.8 L1919.5,102.7 L1918.1,103.7 L1916.7,104.7 L1915.3,105.8 L1913.9,106.8 L1912.5,107.9 L1911.2,108.9 L1909.8,110.0 L1908.5,111.2 L1907.1,112.3 L1905.8,113.4 L1904.5,114.6 L1903.3,115.8 L1902.0,117.0" fill="none" stroke="#236ccc" stroke-width="7.5" stroke-linejoin="round" stroke-linecap="butt" stroke-dasharray="47.00 52.29" stroke-dashoffset="0.00" clip-path="url(#clip2)"/><path d="M1987.9,68.2 L1985.6,69.2 L1983.2,70.3 L1980.7,71.5 L1978.1,72.7 L1975.5,74.0 L1972.8,75.2 L1970.1,76.5 L1967.5,77.9 L1964.8,79.2 L1962.1,80.5 L1959.5,81.8 L1956.9,83.1 L1954.3,84.4 L1951.9,85.6 L1949.5,86.8 L1947.3,87.9 L1945.6,88.7 L1944.0,89.5 L1942.5,90.2 L1940.9,91.0 L1939.4,91.7 L1937.9,92.4 L1936.4,93.1 L1935.0,93.8 L1933.6,94.5 L1932.2,95.2 L1930.8,95.9 L1929.4,96.6 L1928.0,97.4 L1926.6,98.2 L1925.2,99.0 L1923.8,99.9 L1922.4,100.8 L1920.9,101.8 L1919.5,102.7 L1918.1,103.7 L1916.7,104.7 L1915.3,105.8 L1913.9,106.8 L1912.5,107.9 L1911.2,108.9 L1909.8,110.0 L1908.5,111.2 L1907.1,112.3 L1905.8,113.4 L1904.5,114.6 L1903.3,115.8 L1902.0,117.0" fill="none" stroke="#236ccc" stroke-width="7.5" stroke-linecap="round" stroke-dasharray="3.00 96.29" stroke-dashoffset="27.64" clip-path="url(#clip2)"/><path d="M1902.0,117.0 L1900.7,118.3 L1899.4,119.6 L1898.1,120.9 L1896.7,122.3 L1895.4,123.8 L1894.1,125.2 L1892.8,126.6 L1891.5,128.1 L1890.3,129.6 L1889.1,131.0 L1888.0,132.5 L1886.9,133.9 L1885.9,135.3 L1885.1,136.6 L1884.3,137.9 L1883.6,139.2 L1883.2,140.0 L1882.9,140.7 L1882.6,141.5 L1882.4,142.2 L1882.2,142.9 L1882.1,143.5 L1881.9,144.2 L1881.8,144.9 L1881.7,145.6 L1881.6,146.3 L1881.5,147.0 L1881.4,147.7 L1881.2,148.5 L1881.1,149.2 L1880.9,150.1 L1880.7,150.9 L1880.4,152.2 L1880.0,153.6 L1879.6,155.0 L1879.2,156.5 L1878.7,158.0 L1878.3,159.5 L1877.8,161.1 L1877.4,162.8 L1876.9,164.4 L1876.5,166.0 L1876.0,167.7 L1875.6,169.4 L1875.2,171.0 L1874.8,172.7 L1874.4,174.3 L1874.1,175.9 L1873.8,177.5 L1873.5,179.1 L1873.2,180.7 L1873.0,182.3 L1872.7,183.9 L1872.5,185.5 L1872.3,187.1 L1872.1,188.7 L1871.9,190.3 L1871.7,191.9 L1871.5,193.6 L1871.3,195.3 L1871.1,197.0 L1870.9,198.8 L1870.7,200.6 L1870.5,202.4" fill="none" stroke="#236ccc" stroke-width="7.5" stroke-linejoin="round" stroke-linecap="butt" stroke-dasharray="47.00 46.66" stroke-dashoffset="0.00" clip-path="url(#clip2)"/><path d="M1902.0,117.0 L1900.7,118.3 L1899.4,119.6 L1898.1,120.9 L1896.7,122.3 L1895.4,123.8 L1894.1,125.2 L1892.8,126.6 L1891.5,128.1 L1890.3,129.6 L1889.1,131.0 L1888.0,132.5 L1886.9,133.9 L1885.9,135.3 L1885.1,136.6 L1884.3,137.9 L1883.6,139.2 L1883.2,140.0 L1882.9,140.7 L1882.6,141.5 L1882.4,142.2 L1882.2,142.9 L1882.1,143.5 L1881.9,144.2 L1881.8,144.9 L1881.7,145.6 L1881.6,146.3 L1881.5,147.0 L1881.4,147.7 L1881.2,148.5 L1881.1,149.2 L1880.9,150.1 L1880.7,150.9 L1880.4,152.2 L1880.0,153.6 L1879.6,155.0 L1879.2,156.5 L1878.7,158.0 L1878.3,159.5 L1877.8,161.1 L1877.4,162.8 L1876.9,164.4 L1876.5,166.0 L1876.0,167.7 L1875.6,169.4 L1875.2,171.0 L1874.8,172.7 L1874.4,174.3 L1874.1,175.9 L1873.8,177.5 L1873.5,179.1 L1873.2,180.7 L1873.0,182.3 L1872.7,183.9 L1872.5,185.5 L1872.3,187.1 L1872.1,188.7 L1871.9,190.3 L1871.7,191.9 L1871.5,193.6 L1871.3,195.3 L1871.1,197.0 L1870.9,198.8 L1870.7,200.6 L1870.5,202.4" fill="none" stroke="#236ccc" stroke-width="7.5" stroke-linecap="round" stroke-dasharray="3.00 90.66" stroke-dashoffset="24.83" clip-path="url(#clip2)"/><path d="M1870.5,202.4 L1870.2,204.8 L1870.0,207.3 L1869.7,209.9 L1869.4,212.6 L1869.1,215.4 L1868.8,218.2 L1868.6,221.0 L1868.3,223.8 L1868.0,226.7 L1867.8,229.5 L1867.5,232.3 L1867.3,235.0 L1867.1,237.7 L1866.8,240.3 L1866.6,242.9 L1866.4,245.3 L1866.2,247.2 L1866.1,249.0 L1865.9,250.7 L1865.8,252.5 L1865.7,254.2 L1865.5,255.9 L1865.4,257.6 L1865.3,259.2 L1865.2,260.8 L1865.1,262.5 L1865.0,264.1 L1864.8,265.7 L1864.7,267.3 L1864.6,269.0 L1864.5,270.6 L1864.4,272.3 L1864.3,274.0 L1864.2,275.6 L1864.1,277.2 L1864.0,278.8 L1863.9,280.4 L1863.7,282.0 L1863.6,283.6 L1863.5,285.2 L1863.4,286.8 L1863.3,288.4 L1863.3,290.1 L1863.2,291.8 L1863.1,293.5 L1863.0,295.2 L1863.0,297.0 L1862.9,298.9" fill="none" stroke="#236ccc" stroke-width="7.5" stroke-linejoin="round" stroke-linecap="butt" stroke-dasharray="47.00 49.82" stroke-dashoffset="0.00" clip-path="url(#clip2)"/><path d="M1870.5,202.4 L1870.2,204.8 L1870.0,207.3 L1869.7,209.9 L1869.4,212.6 L1869.1,215.4 L1868.8,218.2 L1868.6,221.0 L1868.3,223.8 L1868.0,226.7 L1867.8,229.5 L1867.5,232.3 L1867.3,235.0 L1867.1,237.7 L1866.8,240.3 L1866.6,242.9 L1866.4,245.3 L1866.2,247.2 L1866.1,249.0 L1865.9,250.7 L1865.8,252.5 L1865.7,254.2 L1865.5,255.9 L1865.4,257.6 L1865.3,259.2 L1865.2,260.8 L1865.1,262.5 L1865.0,264.1 L1864.8,265.7 L1864.7,267.3 L1864.6,269.0 L1864.5,270.6 L1864.4,272.3 L1864.3,274.0 L1864.2,275.6 L1864.1,277.2 L1864.0,278.8 L1863.9,280.4 L1863.7,282.0 L1863.6,283.6 L1863.5,285.2 L1863.4,286.8 L1863.3,288.4 L1863.3,290.1 L1863.2,291.8 L1863.1,293.5 L1863.0,295.2 L1863.0,297.0 L1862.9,298.9" fill="none" stroke="#236ccc" stroke-width="7.5" stroke-linecap="round" stroke-dasharray="3.00 93.82" stroke-dashoffset="26.41" clip-path="url(#clip2)"/><path d="M1862.9,298.9 L1862.8,301.4 L1862.8,304.1 L1862.8,306.8 L1862.8,309.7 L1862.8,312.6 L1862.8,315.6 L1862.8,318.6 L1862.8,321.7 L1862.8,324.7 L1862.9,327.7 L1862.9,330.7 L1862.9,333.6 L1862.9,336.4 L1862.9,339.2 L1862.9,341.8 L1862.9,344.3 L1862.9,346.1 L1862.8,347.8 L1862.8,349.5 L1862.8,351.2 L1862.7,352.8 L1862.7,354.4 L1862.6,356.0 L1862.6,357.5 L1862.5,359.0 L1862.5,360.6 L1862.5,362.1 L1862.4,363.6 L1862.4,365.1 L1862.3,366.7 L1862.3,368.2 L1862.3,369.8 L1862.3,371.4 L1862.3,372.9 L1862.3,374.5 L1862.3,376.0 L1862.3,377.5 L1862.3,379.0 L1862.3,380.6 L1862.3,382.1 L1862.3,383.6 L1862.3,385.2 L1862.3,386.8 L1862.3,388.4 L1862.3,390.1 L1862.3,391.8 L1862.3,393.5 L1862.3,395.3" fill="none" stroke="#236ccc" stroke-width="7.5" stroke-linejoin="round" stroke-linecap="butt" stroke-dasharray="47.00 49.41" stroke-dashoffset="0.00" clip-path="url(#clip2)"/><path d="M1862.9,298.9 L1862.8,301.4 L1862.8,304.1 L1862.8,306.8 L1862.8,309.7 L1862.8,312.6 L1862.8,315.6 L1862.8,318.6 L1862.8,321.7 L1862.8,324.7 L1862.9,327.7 L1862.9,330.7 L1862.9,333.6 L1862.9,336.4 L1862.9,339.2 L1862.9,341.8 L1862.9,344.3 L1862.9,346.1 L1862.8,347.8 L1862.8,349.5 L1862.8,351.2 L1862.7,352.8 L1862.7,354.4 L1862.6,356.0 L1862.6,357.5 L1862.5,359.0 L1862.5,360.6 L1862.5,362.1 L1862.4,363.6 L1862.4,365.1 L1862.3,366.7 L1862.3,368.2 L1862.3,369.8 L1862.3,371.4 L1862.3,372.9 L1862.3,374.5 L1862.3,376.0 L1862.3,377.5 L1862.3,379.0 L1862.3,380.6 L1862.3,382.1 L1862.3,383.6 L1862.3,385.2 L1862.3,386.8 L1862.3,388.4 L1862.3,390.1 L1862.3,391.8 L1862.3,393.5 L1862.3,395.3" fill="none" stroke="#236ccc" stroke-width="7.5" stroke-linecap="round" stroke-dasharray="3.00 93.41" stroke-dashoffset="26.20" clip-path="url(#clip2)"/><path d="M1862.3,395.3 L1862.3,397.8 L1862.2,400.4 L1862.2,403.1 L1862.1,405.9 L1862.1,408.8 L1862.0,411.7 L1861.9,414.7 L1861.8,417.7 L1861.8,420.7 L1861.7,423.7 L1861.6,426.6 L1861.5,429.5 L1861.5,432.3 L1861.4,435.1 L1861.4,437.7 L1861.3,440.2 L1861.3,442.0 L1861.2,443.8 L1861.2,445.6 L1861.1,447.3 L1861.1,449.0 L1861.1,450.7 L1861.0,452.3 L1861.0,453.9 L1860.9,455.5 L1860.9,457.1 L1860.9,458.7 L1860.8,460.3 L1860.8,461.9 L1860.8,463.5 L1860.8,465.1 L1860.8,466.7 L1860.8,468.3 L1860.8,469.9 L1860.8,471.4 L1860.9,472.9 L1860.9,474.5 L1860.9,476.0 L1860.9,477.5 L1861.0,479.0 L1861.0,480.6 L1861.1,482.1 L1861.1,483.7 L1861.1,485.3 L1861.2,487.0 L1861.2,488.7 L1861.3,490.4 L1861.3,492.2" fill="none" stroke="#236ccc" stroke-width="7.5" stroke-linejoin="round" stroke-linecap="butt" stroke-dasharray="47.00 49.92" stroke-dashoffset="0.00" clip-path="url(#clip2)"/><path d="M1862.3,395.3 L1862.3,397.8 L1862.2,400.4 L1862.2,403.1 L1862.1,405.9 L1862.1,408.8 L1862.0,411.7 L1861.9,414.7 L1861.8,417.7 L1861.8,420.7 L1861.7,423.7 L1861.6,426.6 L1861.5,429.5 L1861.5,432.3 L1861.4,435.1 L1861.4,437.7 L1861.3,440.2 L1861.3,442.0 L1861.2,443.8 L1861.2,445.6 L1861.1,447.3 L1861.1,449.0 L1861.1,450.7 L1861.0,452.3 L1861.0,453.9 L1860.9,455.5 L1860.9,457.1 L1860.9,458.7 L1860.8,460.3 L1860.8,461.9 L1860.8,463.5 L1860.8,465.1 L1860.8,466.7 L1860.8,468.3 L1860.8,469.9 L1860.8,471.4 L1860.9,472.9 L1860.9,474.5 L1860.9,476.0 L1860.9,477.5 L1861.0,479.0 L1861.0,480.6 L1861.1,482.1 L1861.1,483.7 L1861.1,485.3 L1861.2,487.0 L1861.2,488.7 L1861.3,490.4 L1861.3,492.2" fill="none" stroke="#236ccc" stroke-width="7.5" stroke-linecap="round" stroke-dasharray="3.00 93.92" stroke-dashoffset="26.46" clip-path="url(#clip2)"/><path d="M1861.3,492.2 L1861.3,494.7 L1861.4,497.3 L1861.4,500.0 L1861.5,502.8 L1861.5,505.7 L1861.6,508.6 L1861.6,511.6 L1861.7,514.6 L1861.7,517.6 L1861.8,520.6 L1861.8,523.5 L1861.9,526.4 L1862.0,529.2 L1862.1,532.0 L1862.2,534.6 L1862.3,537.1 L1862.4,539.0 L1862.5,540.8 L1862.6,542.5 L1862.8,544.2 L1862.9,545.9 L1863.0,547.6 L1863.2,549.2 L1863.3,550.9 L1863.4,552.5 L1863.6,554.1 L1863.7,555.6 L1863.9,557.2 L1864.0,558.8 L1864.1,560.4 L1864.3,562.1 L1864.4,563.7 L1864.5,565.3 L1864.6,566.9 L1864.7,568.5 L1864.9,570.1 L1865.0,571.6 L1865.1,573.2 L1865.2,574.7 L1865.3,576.3 L1865.4,577.9 L1865.5,579.5 L1865.6,581.1 L1865.7,582.7 L1865.8,584.4 L1866.0,586.1 L1866.1,587.9 L1866.2,589.7" fill="none" stroke="#236ccc" stroke-width="7.5" stroke-linejoin="round" stroke-linecap="butt" stroke-dasharray="47.00 50.66" stroke-dashoffset="0.00" clip-path="url(#clip2)"/><path d="M1861.3,492.2 L1861.3,494.7 L1861.4,497.3 L1861.4,500.0 L1861.5,502.8 L1861.5,505.7 L1861.6,508.6 L1861.6,511.6 L1861.7,514.6 L1861.7,517.6 L1861.8,520.6 L1861.8,523.5 L1861.9,526.4 L1862.0,529.2 L1862.1,532.0 L1862.2,534.6 L1862.3,537.1 L1862.4,539.0 L1862.5,540.8 L1862.6,542.5 L1862.8,544.2 L1862.9,545.9 L1863.0,547.6 L1863.2,549.2 L1863.3,550.9 L1863.4,552.5 L1863.6,554.1 L1863.7,555.6 L1863.9,557.2 L1864.0,558.8 L1864.1,560.4 L1864.3,562.1 L1864.4,563.7 L1864.5,565.3 L1864.6,566.9 L1864.7,568.5 L1864.9,570.1 L1865.0,571.6 L1865.1,573.2 L1865.2,574.7 L1865.3,576.3 L1865.4,577.9 L1865.5,579.5 L1865.6,581.1 L1865.7,582.7 L1865.8,584.4 L1866.0,586.1 L1866.1,587.9 L1866.2,589.7" fill="none" stroke="#236ccc" stroke-width="7.5" stroke-linecap="round" stroke-dasharray="3.00 94.66" stroke-dashoffset="26.83" clip-path="url(#clip2)"/><path d="M1866.2,589.7 L1866.4,592.1 L1866.5,594.7 L1866.7,597.4 L1866.9,600.1 L1867.1,602.9 L1867.3,605.8 L1867.5,608.7 L1867.6,611.6 L1867.8,614.5 L1868.0,617.4 L1868.2,620.3 L1868.4,623.1 L1868.7,625.9 L1868.9,628.5 L1869.1,631.1 L1869.3,633.6 L1869.5,635.5 L1869.6,637.3 L1869.8,639.1 L1870.0,640.8 L1870.2,642.5 L1870.3,644.2 L1870.5,645.9 L1870.7,647.5 L1870.9,649.2 L1871.1,650.8 L1871.3,652.4 L1871.5,654.0 L1871.7,655.7 L1871.9,657.3 L1872.1,658.9 L1872.3,660.6 L1872.5,662.2 L1872.7,663.8 L1873.0,665.4 L1873.2,667.0 L1873.5,668.6 L1873.7,670.1 L1873.9,671.7 L1874.2,673.2 L1874.5,674.8 L1874.7,676.4 L1875.0,678.0 L1875.3,679.7 L1875.5,681.3 L1875.8,683.0 L1876.1,684.8 L1876.4,686.6" fill="none" stroke="#236ccc" stroke-width="7.5" stroke-linejoin="round" stroke-linecap="butt" stroke-dasharray="47.00 50.50" stroke-dashoffset="0.00" clip-path="url(#clip2)"/><path d="M1866.2,589.7 L1866.4,592.1 L1866.5,594.7 L1866.7,597.4 L1866.9,600.1 L1867.1,602.9 L1867.3,605.8 L1867.5,608.7 L1867.6,611.6 L1867.8,614.5 L1868.0,617.4 L1868.2,620.3 L1868.4,623.1 L1868.7,625.9 L1868.9,628.5 L1869.1,631.1 L1869.3,633.6 L1869.5,635.5 L1869.6,637.3 L1869.8,639.1 L1870.0,640.8 L1870.2,642.5 L1870.3,644.2 L1870.5,645.9 L1870.7,647.5 L1870.9,649.2 L1871.1,650.8 L1871.3,652.4 L1871.5,654.0 L1871.7,655.7 L1871.9,657.3 L1872.1,658.9 L1872.3,660.6 L1872.5,662.2 L1872.7,663.8 L1873.0,665.4 L1873.2,667.0 L1873.5,668.6 L1873.7,670.1 L1873.9,671.7 L1874.2,673.2 L1874.5,674.8 L1874.7,676.4 L1875.0,678.0 L1875.3,679.7 L1875.5,681.3 L1875.8,683.0 L1876.1,684.8 L1876.4,686.6" fill="none" stroke="#236ccc" stroke-width="7.5" stroke-linecap="round" stroke-dasharray="3.00 94.50" stroke-dashoffset="26.75" clip-path="url(#clip2)"/><path d="M1876.4,686.6 L1876.8,689.0 L1877.2,691.5 L1877.6,694.1 L1878.1,696.8 L1878.5,699.6 L1878.9,702.4 L1879.4,705.2 L1879.9,708.0 L1880.3,710.9 L1880.8,713.7 L1881.3,716.5 L1881.8,719.3 L1882.2,721.9 L1882.7,724.6 L1883.1,727.1 L1883.6,729.5 L1884.0,731.3 L1884.3,733.1 L1884.7,734.9 L1885.1,736.6 L1885.4,738.4 L1885.8,740.0 L1886.2,741.7 L1886.6,743.3 L1886.9,745.0 L1887.3,746.6 L1887.6,748.2 L1888.0,749.7 L1888.3,751.3 L1888.6,752.9 L1888.9,754.4 L1889.2,756.0 L1889.4,757.4 L1889.7,758.8 L1889.9,760.3 L1890.1,761.8 L1890.3,763.2 L1890.5,764.7 L1890.7,766.2 L1890.9,767.6 L1891.1,769.0 L1891.3,770.3 L1891.4,771.6 L1891.6,772.9 L1891.7,774.0 L1891.9,775.1 L1892.0,776.1 L1892.1,777.0 L1892.2,777.5 L1892.2,777.8 L1892.3,778.2 L1892.4,778.5 L1892.4,778.9 L1892.5,779.2 L1892.5,779.5 L1892.6,779.7 L1892.7,780.0 L1892.7,780.3 L1892.7,780.6 L1892.8,780.8 L1892.8,781.1 L1892.8,781.4 L1892.8,781.7 L1892.8,782.0" fill="none" stroke="#236ccc" stroke-width="7.5" stroke-linejoin="round" stroke-linecap="butt" stroke-dasharray="47.00 49.85" stroke-dashoffset="0.00" clip-path="url(#clip2)"/><path d="M1876.4,686.6 L1876.8,689.0 L1877.2,691.5 L1877.6,694.1 L1878.1,696.8 L1878.5,699.6 L1878.9,702.4 L1879.4,705.2 L1879.9,708.0 L1880.3,710.9 L1880.8,713.7 L1881.3,716.5 L1881.8,719.3 L1882.2,721.9 L1882.7,724.6 L1883.1,727.1 L1883.6,729.5 L1884.0,731.3 L1884.3,733.1 L1884.7,734.9 L1885.1,736.6 L1885.4,738.4 L1885.8,740.0 L1886.2,741.7 L1886.6,743.3 L1886.9,745.0 L1887.3,746.6 L1887.6,748.2 L1888.0,749.7 L1888.3,751.3 L1888.6,752.9 L1888.9,754.4 L1889.2,756.0 L1889.4,757.4 L1889.7,758.8 L1889.9,760.3 L1890.1,761.8 L1890.3,763.2 L1890.5,764.7 L1890.7,766.2 L1890.9,767.6 L1891.1,769.0 L1891.3,770.3 L1891.4,771.6 L1891.6,772.9 L1891.7,774.0 L1891.9,775.1 L1892.0,776.1 L1892.1,777.0 L1892.2,777.5 L1892.2,777.8 L1892.3,778.2 L1892.4,778.5 L1892.4,778.9 L1892.5,779.2 L1892.5,779.5 L1892.6,779.7 L1892.7,780.0 L1892.7,780.3 L1892.7,780.6 L1892.8,780.8 L1892.8,781.1 L1892.8,781.4 L1892.8,781.7 L1892.8,782.0" fill="none" stroke="#236ccc" stroke-width="7.5" stroke-linecap="round" stroke-dasharray="3.00 93.85" stroke-dashoffset="26.42" clip-path="url(#clip2)"/><path d="M1892.8,782.0 L1892.8,782.3 L1892.8,782.6 L1892.7,782.9 L1892.7,783.1 L1892.6,783.4 L1892.6,783.6 L1892.5,783.9 L1892.4,784.1 L1892.3,784.4 L1892.3,784.7 L1892.2,785.0 L1892.1,785.3 L1892.0,785.7 L1891.9,786.0 L1891.8,786.4 L1891.7,786.9 L1891.4,788.3 L1891.0,790.1 L1890.6,792.1 L1890.1,794.4 L1889.6,796.8 L1889.1,799.4 L1888.5,802.2 L1887.9,805.0 L1887.3,807.9 L1886.7,810.7 L1886.0,813.6 L1885.3,816.4 L1884.7,819.2 L1884.0,821.7 L1883.3,824.2 L1882.6,826.4 L1882.1,828.0 L1881.5,829.6 L1881.0,831.2 L1880.5,832.7 L1879.9,834.1 L1879.4,835.6 L1878.8,837.0 L1878.3,838.4 L1877.7,839.8 L1877.1,841.2 L1876.4,842.5 L1875.8,843.9 L1875.1,845.2 L1874.4,846.6 L1873.7,848.0 L1872.9,849.4 L1872.0,850.9 L1871.0,852.4 L1870.0,853.8 L1869.0,855.3 L1867.9,856.7 L1866.7,858.1 L1865.6,859.5 L1864.4,860.9 L1863.2,862.3 L1862.1,863.8 L1860.9,865.3 L1859.8,866.8 L1858.7,868.3 L1857.7,869.9 L1856.7,871.6 L1855.8,873.3" fill="none" stroke="#236ccc" stroke-width="7.5" stroke-linejoin="round" stroke-linecap="butt" stroke-dasharray="47.00 53.04" stroke-dashoffset="0.00" clip-path="url(#clip2)"/><path d="M1892.8,782.0 L1892.8,782.3 L1892.8,782.6 L1892.7,782.9 L1892.7,783.1 L1892.6,783.4 L1892.6,783.6 L1892.5,783.9 L1892.4,784.1 L1892.3,784.4 L1892.3,784.7 L1892.2,785.0 L1892.1,785.3 L1892.0,785.7 L1891.9,786.0 L1891.8,786.4 L1891.7,786.9 L1891.4,788.3 L1891.0,790.1 L1890.6,792.1 L1890.1,794.4 L1889.6,796.8 L1889.1,799.4 L1888.5,802.2 L1887.9,805.0 L1887.3,807.9 L1886.7,810.7 L1886.0,813.6 L1885.3,816.4 L1884.7,819.2 L1884.0,821.7 L1883.3,824.2 L1882.6,826.4 L1882.1,828.0 L1881.5,829.6 L1881.0,831.2 L1880.5,832.7 L1879.9,834.1 L1879.4,835.6 L1878.8,837.0 L1878.3,838.4 L1877.7,839.8 L1877.1,841.2 L1876.4,842.5 L1875.8,843.9 L1875.1,845.2 L1874.4,846.6 L1873.7,848.0 L1872.9,849.4 L1872.0,850.9 L1871.0,852.4 L1870.0,853.8 L1869.0,855.3 L1867.9,856.7 L1866.7,858.1 L1865.6,859.5 L1864.4,860.9 L1863.2,862.3 L1862.1,863.8 L1860.9,865.3 L1859.8,866.8 L1858.7,868.3 L1857.7,869.9 L1856.7,871.6 L1855.8,873.3" fill="none" stroke="#236ccc" stroke-width="7.5" stroke-linecap="round" stroke-dasharray="3.00 97.04" stroke-dashoffset="28.02" clip-path="url(#clip2)"/><path d="M1855.8,873.3 L1854.8,875.5 L1853.8,877.8 L1852.9,880.3 L1851.9,882.9 L1851.0,885.7 L1850.2,888.4 L1849.3,891.2 L1848.5,894.0 L1847.8,896.7 L1847.1,899.4 L1846.4,901.9 L1845.8,904.3 L1845.2,906.5 L1844.7,908.4 L1844.2,910.1 L1843.8,911.5 L1843.7,912.0 L1843.5,912.3 L1843.4,912.7 L1843.3,913.0 L1843.1,913.4 L1843.0,913.6 L1842.9,913.9 L1842.8,914.2 L1842.7,914.5 L1842.6,914.7 L1842.5,915.0 L1842.4,915.2 L1842.4,915.5 L1842.3,915.7 L1842.3,916.0 L1842.3,916.3 L1842.3,916.6 L1842.3,916.9 L1842.4,917.2 L1842.4,917.4 L1842.5,917.7 L1842.5,918.0 L1842.6,918.2 L1842.7,918.5 L1842.8,918.8 L1842.9,919.1 L1843.0,919.4 L1843.1,919.7 L1843.2,920.0 L1843.3,920.4 L1843.4,920.7 L1843.6,921.1 L1843.8,922.0 L1844.0,922.9 L1844.2,923.9 L1844.5,925.0 L1844.7,926.1 L1845.0,927.2 L1845.3,928.5 L1845.6,929.7 L1845.9,931.0 L1846.2,932.3 L1846.6,933.6 L1846.9,935.0 L1847.3,936.3 L1847.7,937.6 L1848.1,938.9 L1848.5,940.2 L1849.0,941.7 L1849.6,943.3 L1850.2,944.8 L1850.9,946.4 L1851.6,948.0 L1852.3,949.5 L1853.0,951.1 L1853.8,952.8 L1854.5,954.4 L1855.3,956.1 L1856.0,957.8 L1856.7,959.5 L1857.4,961.2 L1858.0,963.0 L1858.6,964.8 L1859.2,966.7" fill="none" stroke="#236ccc" stroke-width="7.5" stroke-linejoin="round" stroke-linecap="butt" stroke-dasharray="47.00 51.47" stroke-dashoffset="0.00" clip-path="url(#clip2)"/><path d="M1855.8,873.3 L1854.8,875.5 L1853.8,877.8 L1852.9,880.3 L1851.9,882.9 L1851.0,885.7 L1850.2,888.4 L1849.3,891.2 L1848.5,894.0 L1847.8,896.7 L1847.1,899.4 L1846.4,901.9 L1845.8,904.3 L1845.2,906.5 L1844.7,908.4 L1844.2,910.1 L1843.8,911.5 L1843.7,912.0 L1843.5,912.3 L1843.4,912.7 L1843.3,913.0 L1843.1,913.4 L1843.0,913.6 L1842.9,913.9 L1842.8,914.2 L1842.7,914.5 L1842.6,914.7 L1842.5,915.0 L1842.4,915.2 L1842.4,915.5 L1842.3,915.7 L1842.3,916.0 L1842.3,916.3 L1842.3,916.6 L1842.3,916.9 L1842.4,917.2 L1842.4,917.4 L1842.5,917.7 L1842.5,918.0 L1842.6,918.2 L1842.7,918.5 L1842.8,918.8 L1842.9,919.1 L1843.0,919.4 L1843.1,919.7 L1843.2,920.0 L1843.3,920.4 L1843.4,920.7 L1843.6,921.1 L1843.8,922.0 L1844.0,922.9 L1844.2,923.9 L1844.5,925.0 L1844.7,926.1 L1845.0,927.2 L1845.3,928.5 L1845.6,929.7 L1845.9,931.0 L1846.2,932.3 L1846.6,933.6 L1846.9,935.0 L1847.3,936.3 L1847.7,937.6 L1848.1,938.9 L1848.5,940.2 L1849.0,941.7 L1849.6,943.3 L1850.2,944.8 L1850.9,946.4 L1851.6,948.0 L1852.3,949.5 L1853.0,951.1 L1853.8,952.8 L1854.5,954.4 L1855.3,956.1 L1856.0,957.8 L1856.7,959.5 L1857.4,961.2 L1858.0,963.0 L1858.6,964.8 L1859.2,966.7" fill="none" stroke="#236ccc" stroke-width="7.5" stroke-linecap="round" stroke-dasharray="3.00 95.47" stroke-dashoffset="27.24" clip-path="url(#clip2)"/><path d="M1859.2,966.7 L1859.9,969.0 L1860.5,971.5 L1861.1,974.0 L1861.8,976.7 L1862.4,979.4 L1862.9,982.1 L1863.5,984.8 L1864.0,987.6 L1864.5,990.4 L1865.0,993.2 L1865.4,995.9 L1865.8,998.6 L1866.1,1001.2 L1866.4,1003.8 L1866.6,1006.2 L1866.8,1008.6 L1866.9,1010.4 L1867.0,1012.1 L1867.0,1013.8 L1867.0,1015.4 L1867.0,1017.0 L1867.0,1018.6 L1866.9,1020.2 L1866.8,1021.7 L1866.7,1023.3 L1866.6,1024.8 L1866.4,1026.4 L1866.3,1027.9 L1866.1,1029.5 L1866.0,1031.1 L1865.8,1032.7 L1865.6,1034.3 L1865.4,1036.1 L1865.2,1037.8 L1864.9,1039.6 L1864.7,1041.4 L1864.4,1043.1 L1864.1,1044.9 L1863.8,1046.7 L1863.4,1048.5 L1863.1,1050.3 L1862.7,1052.1 L1862.4,1054.0 L1862.0,1055.8 L1861.6,1057.7 L1861.2,1059.6 L1860.7,1061.5 L1860.3,1063.5" fill="none" stroke="#236ccc" stroke-width="7.5" stroke-linejoin="round" stroke-linecap="butt" stroke-dasharray="47.00 51.11" stroke-dashoffset="0.00" clip-path="url(#clip2)"/><path d="M1859.2,966.7 L1859.9,969.0 L1860.5,971.5 L1861.1,974.0 L1861.8,976.7 L1862.4,979.4 L1862.9,982.1 L1863.5,984.8 L1864.0,987.6 L1864.5,990.4 L1865.0,993.2 L1865.4,995.9 L1865.8,998.6 L1866.1,1001.2 L1866.4,1003.8 L1866.6,1006.2 L1866.8,1008.6 L1866.9,1010.4 L1867.0,1012.1 L1867.0,1013.8 L1867.0,1015.4 L1867.0,1017.0 L1867.0,1018.6 L1866.9,1020.2 L1866.8,1021.7 L1866.7,1023.3 L1866.6,1024.8 L1866.4,1026.4 L1866.3,1027.9 L1866.1,1029.5 L1866.0,1031.1 L1865.8,1032.7 L1865.6,1034.3 L1865.4,1036.1 L1865.2,1037.8 L1864.9,1039.6 L1864.7,1041.4 L1864.4,1043.1 L1864.1,1044.9 L1863.8,1046.7 L1863.4,1048.5 L1863.1,1050.3 L1862.7,1052.1 L1862.4,1054.0 L1862.0,1055.8 L1861.6,1057.7 L1861.2,1059.6 L1860.7,1061.5 L1860.3,1063.5" fill="none" stroke="#236ccc" stroke-width="7.5" stroke-linecap="round" stroke-dasharray="3.00 95.11" stroke-dashoffset="27.06" clip-path="url(#clip2)"/><path d="M1860.3,1063.5 L1859.7,1065.9 L1859.2,1068.4 L1858.5,1071.0 L1857.9,1073.6 L1857.2,1076.3 L1856.5,1079.0 L1855.7,1081.7 L1855.0,1084.4 L1854.3,1087.1 L1853.5,1089.8 L1852.8,1092.5 L1852.0,1095.1 L1851.3,1097.6 L1850.6,1100.1 L1849.9,1102.5 L1849.2,1104.8 L1848.7,1106.5 L1848.1,1108.2 L1847.6,1109.8 L1847.0,1111.3 L1846.5,1112.9 L1845.9,1114.4 L1845.4,1115.9 L1844.9,1117.3 L1844.3,1118.8 L1843.8,1120.2 L1843.3,1121.7 L1842.9,1123.2 L1842.4,1124.7 L1842.0,1126.2 L1841.6,1127.7 L1841.3,1129.3 L1841.0,1131.0 L1840.7,1132.6 L1840.5,1134.3 L1840.3,1136.0 L1840.1,1137.6 L1839.9,1139.3 L1839.8,1141.0 L1839.7,1142.7 L1839.6,1144.4 L1839.5,1146.2 L1839.4,1148.0 L1839.4,1149.7 L1839.3,1151.6 L1839.2,1153.4 L1839.2,1155.3 L1839.1,1157.2" fill="none" stroke="#236ccc" stroke-width="7.5" stroke-linejoin="round" stroke-linecap="butt" stroke-dasharray="47.00 49.56" stroke-dashoffset="0.00" clip-path="url(#clip2)"/><path d="M1860.3,1063.5 L1859.7,1065.9 L1859.2,1068.4 L1858.5,1071.0 L1857.9,1073.6 L1857.2,1076.3 L1856.5,1079.0 L1855.7,1081.7 L1855.0,1084.4 L1854.3,1087.1 L1853.5,1089.8 L1852.8,1092.5 L1852.0,1095.1 L1851.3,1097.6 L1850.6,1100.1 L1849.9,1102.5 L1849.2,1104.8 L1848.7,1106.5 L1848.1,1108.2 L1847.6,1109.8 L1847.0,1111.3 L1846.5,1112.9 L1845.9,1114.4 L1845.4,1115.9 L1844.9,1117.3 L1844.3,1118.8 L1843.8,1120.2 L1843.3,1121.7 L1842.9,1123.2 L1842.4,1124.7 L1842.0,1126.2 L1841.6,1127.7 L1841.3,1129.3 L1841.0,1131.0 L1840.7,1132.6 L1840.5,1134.3 L1840.3,1136.0 L1840.1,1137.6 L1839.9,1139.3 L1839.8,1141.0 L1839.7,1142.7 L1839.6,1144.4 L1839.5,1146.2 L1839.4,1148.0 L1839.4,1149.7 L1839.3,1151.6 L1839.2,1153.4 L1839.2,1155.3 L1839.1,1157.2" fill="none" stroke="#236ccc" stroke-width="7.5" stroke-linecap="round" stroke-dasharray="3.00 93.56" stroke-dashoffset="26.28" clip-path="url(#clip2)"/><path d="M1839.1,1157.2 L1839.0,1159.6 L1839.0,1162.1 L1838.9,1164.7 L1838.9,1167.3 L1838.9,1169.9 L1838.9,1172.6 L1838.9,1175.3 L1838.9,1178.0 L1838.9,1180.8 L1839.0,1183.5 L1839.0,1186.3 L1839.0,1189.1 L1839.1,1191.8 L1839.1,1194.6 L1839.1,1197.3 L1839.1,1200.0" fill="none" stroke="#236ccc" stroke-width="7.5" stroke-linejoin="round" stroke-linecap="butt" stroke-dasharray="47.00 50.50" stroke-dashoffset="0.00" clip-path="url(#clip2)"/><path d="M1839.1,1157.2 L1839.0,1159.6 L1839.0,1162.1 L1838.9,1164.7 L1838.9,1167.3 L1838.9,1169.9 L1838.9,1172.6 L1838.9,1175.3 L1838.9,1178.0 L1838.9,1180.8 L1839.0,1183.5 L1839.0,1186.3 L1839.0,1189.1 L1839.1,1191.8 L1839.1,1194.6 L1839.1,1197.3 L1839.1,1200.0" fill="none" stroke="#236ccc" stroke-width="7.5" stroke-linecap="round" stroke-dasharray="3.00 94.50" stroke-dashoffset="26.75" clip-path="url(#clip2)"/><path d="M1846.6,79.2 H1861.2 M1890.8,79.2 H1905.4" stroke="#000" stroke-width="3.4" fill="none"/><path d="M1846.6,66.4 V92.0 M1905.4,66.4 V92.0" stroke="#000" stroke-width="4.8" fill="none"/><path d="M1828.2,409.1 H1840.2 M1869.8,409.1 H1881.8" stroke="#000" stroke-width="3.4" fill="none"/><path d="M1828.2,396.3 V421.9 M1881.8,396.3 V421.9" stroke="#000" stroke-width="4.8" fill="none"/><path d="M1852.8,853.8 H1865.7 M1895.3,853.8 H1908.2" stroke="#000" stroke-width="3.4" fill="none"/><path d="M1852.8,841.0 V866.5 M1908.2,841.0 V866.5" stroke="#000" stroke-width="4.8" fill="none"/><rect x="1713.0" y="50.5" width="573.5" height="1147.5" fill="none" stroke="#000" stroke-width="5" stroke-linejoin="miter"/><path d="M1713.0,1054.6 h11.0 M1713.0,911.1 h21.0 M1713.0,767.7 h11.0 M1713.0,624.2 h21.0 M1713.0,480.8 h11.0 M1713.0,337.4 h21.0 M1713.0,193.9 h11.0 M1808.6,1198.0 v-11.0 M1904.2,1198.0 v-21.0 M1999.8,1198.0 v-11.0 M2095.3,1198.0 v-21.0 M2190.9,1198.0 v-11.0" stroke="#000" stroke-width="5" fill="none"/><text x="1689.4" y="1216.5" font-size="65.0" text-anchor="end">0</text><text x="1689.4" y="929.6" font-size="65.0" text-anchor="end">5</text><text x="1689.4" y="642.8" font-size="65.0" text-anchor="end">10</text><text x="1689.4" y="355.9" font-size="65.0" text-anchor="end">15</text><text x="1689.4" y="69.0" font-size="65.0" text-anchor="end">20</text><text x="1713.0" y="1271.0" font-size="65.0" text-anchor="middle">0.0</text><text x="1904.2" y="1271.0" font-size="65.0" text-anchor="middle">1.0</text><text x="2095.3" y="1271.0" font-size="65.0" text-anchor="middle">2.0</text><text x="2286.5" y="1271.0" font-size="65.0" text-anchor="middle">3.0</text></g>
<text transform="translate(20.3,658.3) scale(1.080,1.000)" x="0" y="0" font-size="81.0" font-style="italic">z</text>
<text transform="translate(54.3,624.6) scale(0.920,1.130)" x="0" y="0" font-size="56.0">*</text>
<text transform="translate(785.7,658.3) scale(1.080,1.000)" x="0" y="0" font-size="81.0" font-style="italic">z</text>
<text transform="translate(820.1,624.6) scale(0.920,1.130)" x="0" y="0" font-size="56.0">*</text>
<text transform="translate(1551.4,658.3) scale(1.080,1.000)" x="0" y="0" font-size="81.0" font-style="italic">z</text>
<text transform="translate(1585.8,624.6) scale(0.920,1.130)" x="0" y="0" font-size="56.0">*</text>
<text x="434.0" y="1346.2" font-size="69.0" font-style="italic">c</text>
<text transform="translate(467.9,1319.5) scale(0.920,1.150)" x="0" y="0" font-size="50.0">*</text>
<text x="1209.3" y="1356.9" font-size="69.0" font-style="italic">c</text>
<text transform="translate(1240.9,1328.0) scale(0.920,1.150)" x="0" y="0" font-size="50.0">*</text>
<text x="1973.1" y="1356.0" font-size="69.0" font-style="italic">c</text>
<text transform="translate(2006.9,1327.8) scale(0.920,1.150)" x="0" y="0" font-size="50.0">*</text>
<text x="265.4" y="1427.0" font-size="70.0" font-style="italic">x</text>
<text transform="translate(297.8,1398.6) scale(0.920,1.150)" x="0" y="0" font-size="46.0">*</text>
<text transform="translate(317.8,1421.5) scale(1.129,0.830)" x="0" y="0" font-size="70.0">=</text>
<text x="358.9" y="1427.0" font-size="70.0">7</text>
<text x="394.1" y="1427.0" font-size="70.0">.</text>
<text x="410.8" y="1427.0" font-size="70.0">5</text>
<text x="447.2" y="1427.0" font-size="70.0">,</text>
<text x="480.9" y="1427.0" font-size="70.0" font-style="italic">y</text>
<text transform="translate(513.3,1398.6) scale(0.920,1.150)" x="0" y="0" font-size="46.0">*</text>
<text transform="translate(532.4,1421.5) scale(1.129,0.830)" x="0" y="0" font-size="70.0">=</text>
<text x="570.8" y="1427.0" font-size="70.0">1</text>
<text x="607.5" y="1427.0" font-size="70.0">5</text>
<text x="1036.9" y="1431.0" font-size="70.0" font-style="italic">x</text>
<text transform="translate(1070.0,1402.6) scale(0.920,1.150)" x="0" y="0" font-size="46.0">*</text>
<text transform="translate(1090.1,1425.5) scale(1.123,0.830)" x="0" y="0" font-size="70.0">=</text>
<text x="1130.0" y="1431.0" font-size="70.0">1</text>
<text x="1164.8" y="1431.0" font-size="70.0">5</text>
<text x="1201.5" y="1431.0" font-size="70.0">,</text>
<text x="1235.4" y="1431.0" font-size="70.0" font-style="italic">y</text>
<text transform="translate(1266.6,1402.6) scale(0.920,1.150)" x="0" y="0" font-size="46.0">*</text>
<text transform="translate(1284.8,1425.5) scale(1.196,0.830)" x="0" y="0" font-size="70.0">=</text>
<text x="1326.6" y="1431.0" font-size="70.0">1</text>
<text x="1360.6" y="1431.0" font-size="70.0">5</text>
<text x="1814.9" y="1435.5" font-size="70.0" font-style="italic">x</text>
<text transform="translate(1848.1,1407.1) scale(0.920,1.150)" x="0" y="0" font-size="46.0">*</text>
<text transform="translate(1868.4,1430.0) scale(1.071,0.830)" x="0" y="0" font-size="70.0">=</text>
<text x="1907.8" y="1435.5" font-size="70.0">2</text>
<text x="1941.8" y="1435.5" font-size="70.0">2</text>
<text x="1979.2" y="1435.5" font-size="70.0">.</text>
<text x="1995.5" y="1435.5" font-size="70.0">5</text>
<text x="2031.5" y="1435.5" font-size="70.0">,</text>
<text x="2065.8" y="1435.5" font-size="70.0" font-style="italic">y</text>
<text transform="translate(2096.3,1407.1) scale(0.920,1.150)" x="0" y="0" font-size="46.0">*</text>
<text transform="translate(2116.4,1430.0) scale(1.126,0.830)" x="0" y="0" font-size="70.0">=</text>
<text x="2156.5" y="1435.5" font-size="70.0">1</text>
<text x="2192.2" y="1435.5" font-size="70.0">5</text>
<text x="615.3" y="178.3" font-size="85.4" text-anchor="start">(a)</text>
<text x="1369.2" y="184.6" font-size="85.4" text-anchor="start">(b)</text>
<text x="2142.6" y="176.4" font-size="85.4" text-anchor="start">(c)</text>
<text x="289.2" y="1524.1" font-size="69.3" text-anchor="start">Experimental results</text>
<text x="1084.0" y="1524.1" font-size="69.3" text-anchor="start">Eulerian method</text>
<text x="1768.0" y="1524.1" font-size="69.3" text-anchor="start">Lagrangian method</text>
<rect x="199.1" y="1486.1" width="25.8" height="26.5" fill="#fff" stroke="#000" stroke-width="6"/>
<line x1="912" y1="1499.5" x2="1068.6" y2="1499.5" stroke="#d9474c" stroke-width="7.5" stroke-linecap="round"/>
<path d="M1591.3,1499.5 H1639.2 M1658,1499.5 H1670.8 M1689.7,1499.5 H1736.6" stroke="#236ccc" stroke-width="7.5" stroke-linecap="butt" fill="none"/>
</svg></body></html>
